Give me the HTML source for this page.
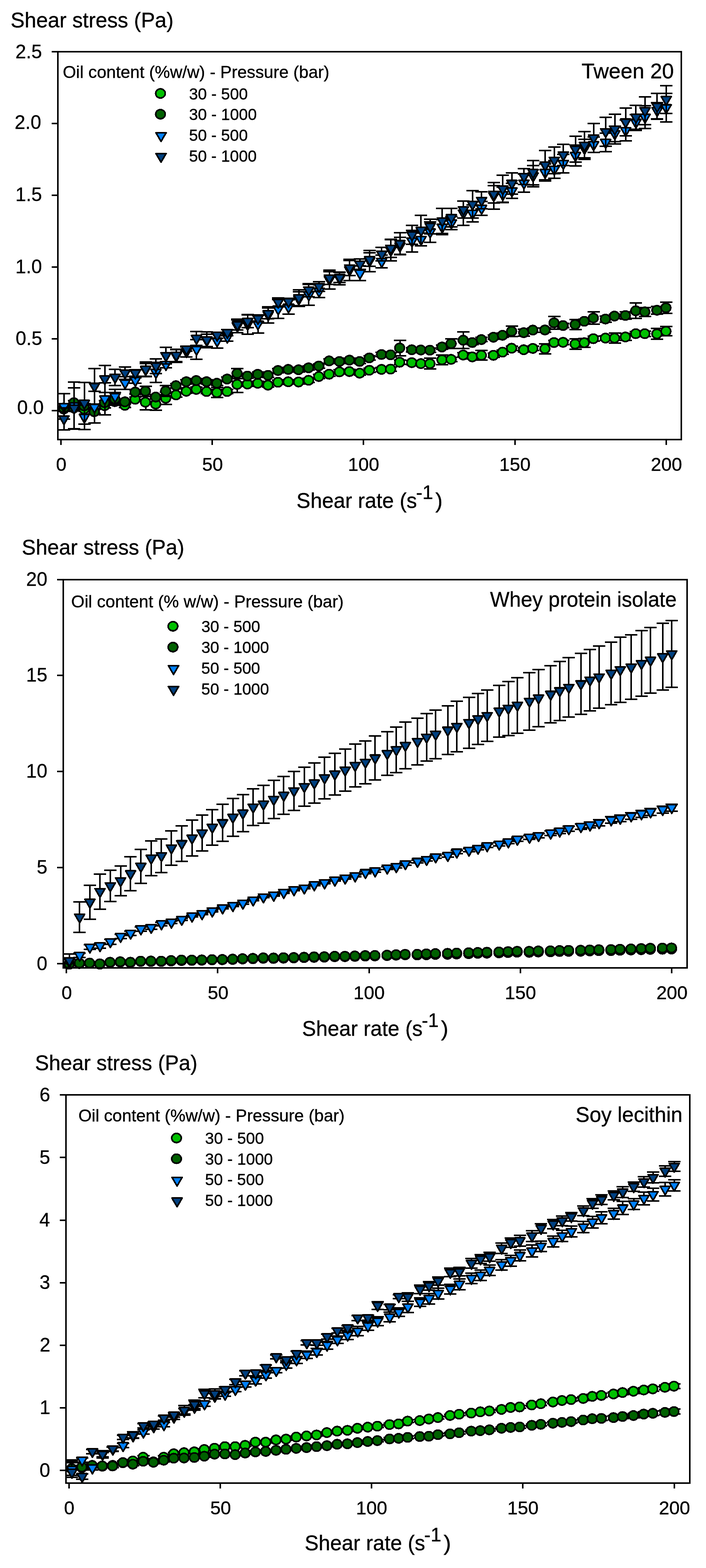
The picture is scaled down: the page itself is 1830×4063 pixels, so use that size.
<!DOCTYPE html>
<html lang="en">
<head>
<meta charset="utf-8">
<title>Shear stress vs shear rate</title>
<style>
html,body{margin:0;padding:0;background:#fff}
body{width:1830px;height:4063px;overflow:hidden}
svg{display:block}
text{font-family:"Liberation Sans", Arial, Helvetica, sans-serif;fill:#000;stroke:#000;stroke-width:0.5}
.e{stroke:#000;stroke-width:4;fill:none;shape-rendering:crispEdges}
.m{stroke:#000;stroke-width:4.1;stroke-linejoin:round;shape-rendering:crispEdges}
.a{stroke:#000;stroke-width:4;fill:none;shape-rendering:crispEdges}
</style>
</head>
<body>
<svg width="1830" height="4063" viewBox="0 0 1830 4063">
<rect width="1830" height="4063" fill="#fff"/>
<g id="plot1">
<text x="27.5" y="71.2" font-size="56" textLength="422.4" lengthAdjust="spacingAndGlyphs">Shear stress (Pa)</text>
<g>
<path class="e" d="M165.7 1054.5V1065.5M149.7 1054.5h32M149.7 1065.5h32M192.1 1051.7V1062.8M176.1 1051.7h32M176.1 1062.8h32M218.6 1054.5V1065.5M202.6 1054.5h32M202.6 1065.5h32M244.9 1060V1071M228.9 1060h32M228.9 1071h32M271.6 1045.7V1056.7M255.6 1045.7h32M255.6 1056.7h32M298.3 1035.2V1046.2M282.3 1035.2h32M282.3 1046.2h32M324.2 1044.8V1055.9M308.2 1044.8h32M308.2 1055.9h32M350.8 1029.1V1040.1M334.8 1029.1h32M334.8 1040.1h32M377.5 1021.9V1062.2M361.5 1021.9h32M361.5 1062.2h32M404.2 1031.3V1062.8M388.2 1031.3h32M388.2 1062.8h32M430.1 1016.1V1047.6M414.1 1016.1h32M414.1 1047.6h32M456.7 1017.8V1028.8M440.7 1017.8h32M440.7 1028.8h32M483.4 1008.4V1019.4M467.4 1008.4h32M467.4 1019.4h32M509.3 1003.4V1014.5M493.3 1003.4h32M493.3 1014.5h32M536 1009V1020M520 1009h32M520 1020h32M562.7 1004.3V1030.2M546.7 1004.3h32M546.7 1030.2h32M589.3 1009V1020M573.3 1009h32M573.3 1020h32M615.2 974.8V1017.2M599.2 974.8h32M599.2 1017.2h32M641.9 989.7V1000.7M625.9 989.7h32M625.9 1000.7h32M668.6 987.7V998.8M652.6 987.7h32M652.6 998.8h32M695.2 992.4V1003.4M679.2 992.4h32M679.2 1003.4h32M721.1 985V996M705.1 985h32M705.1 996h32M747.8 983.8V994.8M731.8 983.8h32M731.8 994.8h32M774.5 984.3V995.3M758.5 984.3h32M758.5 995.3h32M800.4 979.9V990.9M784.4 979.9h32M784.4 990.9h32M827 970.2V981.2M811 970.2h32M811 981.2h32M853.7 964.1V975.2M837.7 964.1h32M837.7 975.2h32M880.4 958.1V969.1M864.4 958.1h32M864.4 969.1h32M906.3 957.2V968.3M890.3 957.2h32M890.3 968.3h32M932.9 961.4V972.4M916.9 961.4h32M916.9 972.4h32M958 953.9V965M942 953.9h32M942 965h32M989.4 951.7V962.8M973.4 951.7h32M973.4 962.8h32M1013 950.9V961.9M997 950.9h32M997 961.9h32M1036.5 933.2V944.2M1020.5 933.2h32M1020.5 944.2h32M1067.9 934.1V945.2M1051.9 934.1h32M1051.9 945.2h32M1091.4 936.7V947.7M1075.4 936.7h32M1075.4 947.7h32M1114.9 928.4V956M1098.9 928.4h32M1098.9 956h32M1146.3 919.9V944.7M1130.3 919.9h32M1130.3 944.7h32M1169.9 925.7V936.7M1153.9 925.7h32M1153.9 936.7h32M1201.2 914.3V925.4M1185.2 914.3h32M1185.2 925.4h32M1224.8 919.3V930.3M1208.8 919.3h32M1208.8 930.3h32M1248.3 908.3V933.1M1232.3 908.3h32M1232.3 933.1h32M1279.7 915.2V926.2M1263.7 915.2h32M1263.7 926.2h32M1303.2 906.9V917.9M1287.2 906.9h32M1287.2 917.9h32M1326.8 896.8V907.9M1310.8 896.8h32M1310.8 907.9h32M1358.1 900.7V911.7M1342.1 900.7h32M1342.1 911.7h32M1381.7 897.2V908.3M1365.7 897.2h32M1365.7 908.3h32M1413 890.6V916.6M1397 890.6h32M1397 916.6h32M1436.6 882.1V893.1M1420.6 882.1h32M1420.6 893.1h32M1460.1 881.6V892.7M1444.1 881.6h32M1444.1 892.7h32M1491.5 877.9V904.7M1475.5 877.9h32M1475.5 904.7h32M1515 876.7V899.6M1499 876.7h32M1499 899.6h32M1538.6 871.4V883.8M1522.6 871.4h32M1522.6 883.8h32M1569.9 870.4V881.5M1553.9 870.4h32M1553.9 881.5h32M1593.5 863.1V888.8M1577.5 863.1h32M1577.5 888.8h32M1621.7 864.2V882.2M1605.7 864.2h32M1605.7 882.2h32M1648.4 859.1V870.1M1632.4 859.1h32M1632.4 870.1h32M1671.9 857.7V871.5M1655.9 857.7h32M1655.9 871.5h32M1703.3 851.4V879M1687.3 851.4h32M1687.3 879h32M1726.8 846.4V870.1M1710.8 846.4h32M1710.8 870.1h32"/>
<g class="m"><ellipse cx="165.1" cy="1060" rx="12.4" ry="11.9" fill="#00c000"/><ellipse cx="191.5" cy="1057.2" rx="12.4" ry="11.9" fill="#00c000"/><ellipse cx="218" cy="1060" rx="12.4" ry="11.9" fill="#00c000"/><ellipse cx="244.3" cy="1065.5" rx="12.4" ry="11.9" fill="#00c000"/><ellipse cx="271" cy="1051.2" rx="12.4" ry="11.9" fill="#00c000"/><ellipse cx="297.7" cy="1040.7" rx="12.4" ry="11.9" fill="#00c000"/><ellipse cx="323.6" cy="1050.3" rx="12.4" ry="11.9" fill="#00c000"/><ellipse cx="350.2" cy="1034.6" rx="12.4" ry="11.9" fill="#00c000"/><ellipse cx="376.9" cy="1042.1" rx="12.4" ry="11.9" fill="#00c000"/><ellipse cx="403.6" cy="1047" rx="12.4" ry="11.9" fill="#00c000"/><ellipse cx="429.5" cy="1031.9" rx="12.4" ry="11.9" fill="#00c000"/><ellipse cx="456.1" cy="1023.3" rx="12.4" ry="11.9" fill="#00c000"/><ellipse cx="482.8" cy="1013.9" rx="12.4" ry="11.9" fill="#00c000"/><ellipse cx="508.7" cy="1009" rx="12.4" ry="11.9" fill="#00c000"/><ellipse cx="535.4" cy="1014.5" rx="12.4" ry="11.9" fill="#00c000"/><ellipse cx="562.1" cy="1017.2" rx="12.4" ry="11.9" fill="#00c000"/><ellipse cx="588.7" cy="1014.5" rx="12.4" ry="11.9" fill="#00c000"/><ellipse cx="614.6" cy="996" rx="12.4" ry="11.9" fill="#00c000"/><ellipse cx="641.3" cy="995.2" rx="12.4" ry="11.9" fill="#00c000"/><ellipse cx="668" cy="993.2" rx="12.4" ry="11.9" fill="#00c000"/><ellipse cx="694.6" cy="997.9" rx="12.4" ry="11.9" fill="#00c000"/><ellipse cx="720.5" cy="990.5" rx="12.4" ry="11.9" fill="#00c000"/><ellipse cx="747.2" cy="989.3" rx="12.4" ry="11.9" fill="#00c000"/><ellipse cx="773.9" cy="989.8" rx="12.4" ry="11.9" fill="#00c000"/><ellipse cx="799.8" cy="985.4" rx="12.4" ry="11.9" fill="#00c000"/><ellipse cx="826.4" cy="975.7" rx="12.4" ry="11.9" fill="#00c000"/><ellipse cx="853.1" cy="969.7" rx="12.4" ry="11.9" fill="#00c000"/><ellipse cx="879.8" cy="963.6" rx="12.4" ry="11.9" fill="#00c000"/><ellipse cx="905.7" cy="962.8" rx="12.4" ry="11.9" fill="#00c000"/><ellipse cx="932.3" cy="966.9" rx="12.4" ry="11.9" fill="#00c000"/><ellipse cx="957.4" cy="959.4" rx="12.4" ry="11.9" fill="#00c000"/><ellipse cx="988.8" cy="957.2" rx="12.4" ry="11.9" fill="#00c000"/><ellipse cx="1012.4" cy="956.4" rx="12.4" ry="11.9" fill="#00c000"/><ellipse cx="1035.9" cy="938.7" rx="12.4" ry="11.9" fill="#00c000"/><ellipse cx="1067.3" cy="939.7" rx="12.4" ry="11.9" fill="#00c000"/><ellipse cx="1090.8" cy="942.2" rx="12.4" ry="11.9" fill="#00c000"/><ellipse cx="1114.3" cy="942.2" rx="12.4" ry="11.9" fill="#00c000"/><ellipse cx="1145.7" cy="932.3" rx="12.4" ry="11.9" fill="#00c000"/><ellipse cx="1169.3" cy="931.2" rx="12.4" ry="11.9" fill="#00c000"/><ellipse cx="1200.6" cy="919.9" rx="12.4" ry="11.9" fill="#00c000"/><ellipse cx="1224.2" cy="924.8" rx="12.4" ry="11.9" fill="#00c000"/><ellipse cx="1247.7" cy="920.7" rx="12.4" ry="11.9" fill="#00c000"/><ellipse cx="1279.1" cy="920.7" rx="12.4" ry="11.9" fill="#00c000"/><ellipse cx="1302.6" cy="912.4" rx="12.4" ry="11.9" fill="#00c000"/><ellipse cx="1326.2" cy="902.3" rx="12.4" ry="11.9" fill="#00c000"/><ellipse cx="1357.5" cy="906.2" rx="12.4" ry="11.9" fill="#00c000"/><ellipse cx="1381.1" cy="902.8" rx="12.4" ry="11.9" fill="#00c000"/><ellipse cx="1412.5" cy="903.6" rx="12.4" ry="11.9" fill="#00c000"/><ellipse cx="1436" cy="887.6" rx="12.4" ry="11.9" fill="#00c000"/><ellipse cx="1459.5" cy="887.1" rx="12.4" ry="11.9" fill="#00c000"/><ellipse cx="1490.9" cy="891.3" rx="12.4" ry="11.9" fill="#00c000"/><ellipse cx="1514.4" cy="888.1" rx="12.4" ry="11.9" fill="#00c000"/><ellipse cx="1538" cy="877.6" rx="12.4" ry="11.9" fill="#00c000"/><ellipse cx="1569.3" cy="876" rx="12.4" ry="11.9" fill="#00c000"/><ellipse cx="1592.9" cy="876" rx="12.4" ry="11.9" fill="#00c000"/><ellipse cx="1621.1" cy="873.2" rx="12.4" ry="11.9" fill="#00c000"/><ellipse cx="1647.8" cy="864.6" rx="12.4" ry="11.9" fill="#00c000"/><ellipse cx="1671.3" cy="864.6" rx="12.4" ry="11.9" fill="#00c000"/><ellipse cx="1702.7" cy="865.2" rx="12.4" ry="11.9" fill="#00c000"/><ellipse cx="1726.2" cy="858.3" rx="12.4" ry="11.9" fill="#00c000"/></g>
</g>
<g>
<path class="e" d="M165.7 1051.7V1062.8M149.7 1051.7h32M149.7 1062.8h32M192.1 1037.9V1049M176.1 1037.9h32M176.1 1049h32M218.6 1046.2V1057.2M202.6 1046.2h32M202.6 1057.2h32M244.9 1061.4V1072.4M228.9 1061.4h32M228.9 1072.4h32M271.6 1037.9V1049M255.6 1037.9h32M255.6 1049h32M298.3 1017.2V1050.3M282.3 1017.2h32M282.3 1050.3h32M324.2 1035.7V1046.8M308.2 1035.7h32M308.2 1046.8h32M350.8 1010.3V1021.4M334.8 1010.3h32M334.8 1021.4h32M377.5 1000.7V1026.6M361.5 1000.7h32M361.5 1026.6h32M404.2 1023.3V1034.3M388.2 1023.3h32M388.2 1034.3h32M430.1 999.3V1026.9M414.1 999.3h32M414.1 1026.9h32M456.7 993.8V1004.8M440.7 993.8h32M440.7 1004.8h32M483.4 983.6V994.6M467.4 983.6h32M467.4 994.6h32M509.3 980.6V991.6M493.3 980.6h32M493.3 991.6h32M536 983.6V994.6M520 983.6h32M520 994.6h32M562.7 987.4V998.5M546.7 987.4h32M546.7 998.5h32M589.3 976.7V987.7M573.3 976.7h32M573.3 987.7h32M615.2 954.6V980.6M599.2 954.6h32M599.2 980.6h32M641.9 969V980M625.9 969h32M625.9 980h32M668.6 964.3V975.3M652.6 964.3h32M652.6 975.3h32M695.2 967V978.1M679.2 967h32M679.2 978.1h32M721.1 954.6V965.7M705.1 954.6h32M705.1 965.7h32M747.8 951.7V962.7M731.8 951.7h32M731.8 962.7h32M774.5 952.6V963.6M758.5 952.6h32M758.5 963.6h32M800.4 947.6V958.6M784.4 947.6h32M784.4 958.6h32M827 942.9V953.9M811 942.9h32M811 953.9h32M853.7 929.7V940.7M837.7 929.7h32M837.7 940.7h32M880.4 931V942.1M864.4 931h32M864.4 942.1h32M906.3 927.7V938.8M890.3 927.7h32M890.3 938.8h32M932.9 931V942.1M916.9 931h32M916.9 942.1h32M958 921.9V933M942 921.9h32M942 933h32M989.4 913.1V924.1M973.4 913.1h32M973.4 924.1h32M1013 913.9V925M997 913.9h32M997 925h32M1036.5 881.6V921.9M1020.5 881.6h32M1020.5 921.9h32M1067.9 900.8V911.8M1051.9 900.8h32M1051.9 911.8h32M1091.4 901.4V912.4M1075.4 901.4h32M1075.4 912.4h32M1114.9 901.9V913M1098.9 901.9h32M1098.9 913h32M1146.3 893.7V904.7M1130.3 893.7h32M1130.3 904.7h32M1169.9 877.9V902.8M1153.9 877.9h32M1153.9 902.8h32M1201.2 860.3V902.8M1185.2 860.3h32M1185.2 902.8h32M1224.8 882.1V893.1M1208.8 882.1h32M1208.8 893.1h32M1248.3 874.3V885.4M1232.3 874.3h32M1232.3 885.4h32M1279.7 868.3V879.3M1263.7 868.3h32M1263.7 879.3h32M1303.2 863.3V874.3M1287.2 863.3h32M1287.2 874.3h32M1326.8 845V872.3M1310.8 845h32M1310.8 872.3h32M1358.1 853V870.9M1342.1 853h32M1342.1 870.9h32M1381.7 849.8V860.8M1365.7 849.8h32M1365.7 860.8h32M1413 849.5V860.6M1397 849.5h32M1397 860.6h32M1436.6 819.7V853.4M1420.6 819.7h32M1420.6 853.4h32M1460.1 838V849.1M1444.1 838h32M1444.1 849.1h32M1491.5 828V853.9M1475.5 828h32M1475.5 853.9h32M1515 827V838M1499 827h32M1499 838h32M1538.6 807.7V840.2M1522.6 807.7h32M1522.6 840.2h32M1569.9 818.7V834.7M1553.9 818.7h32M1553.9 834.7h32M1593.5 813.5V824.5M1577.5 813.5h32M1577.5 824.5h32M1621.7 808.2V826.7M1605.7 808.2h32M1605.7 826.7h32M1648.4 785.4V825.2M1632.4 785.4h32M1632.4 825.2h32M1671.9 796.5V819.7M1655.9 796.5h32M1655.9 819.7h32M1703.3 793.7V814.1M1687.3 793.7h32M1687.3 814.1h32M1726.8 783V812.2M1710.8 783h32M1710.8 812.2h32"/>
<g class="m"><ellipse cx="165.1" cy="1057.2" rx="12.4" ry="11.9" fill="#006000"/><ellipse cx="191.5" cy="1043.4" rx="12.4" ry="11.9" fill="#006000"/><ellipse cx="218" cy="1051.7" rx="12.4" ry="11.9" fill="#006000"/><ellipse cx="244.3" cy="1066.9" rx="12.4" ry="11.9" fill="#006000"/><ellipse cx="271" cy="1043.4" rx="12.4" ry="11.9" fill="#006000"/><ellipse cx="297.7" cy="1033.8" rx="12.4" ry="11.9" fill="#006000"/><ellipse cx="323.6" cy="1041.2" rx="12.4" ry="11.9" fill="#006000"/><ellipse cx="350.2" cy="1015.9" rx="12.4" ry="11.9" fill="#006000"/><ellipse cx="376.9" cy="1013.7" rx="12.4" ry="11.9" fill="#006000"/><ellipse cx="403.6" cy="1028.8" rx="12.4" ry="11.9" fill="#006000"/><ellipse cx="429.5" cy="1013.1" rx="12.4" ry="11.9" fill="#006000"/><ellipse cx="456.1" cy="999.3" rx="12.4" ry="11.9" fill="#006000"/><ellipse cx="482.8" cy="989.1" rx="12.4" ry="11.9" fill="#006000"/><ellipse cx="508.7" cy="986.1" rx="12.4" ry="11.9" fill="#006000"/><ellipse cx="535.4" cy="989.1" rx="12.4" ry="11.9" fill="#006000"/><ellipse cx="562.1" cy="993" rx="12.4" ry="11.9" fill="#006000"/><ellipse cx="588.7" cy="982.2" rx="12.4" ry="11.9" fill="#006000"/><ellipse cx="614.6" cy="967.6" rx="12.4" ry="11.9" fill="#006000"/><ellipse cx="641.3" cy="974.5" rx="12.4" ry="11.9" fill="#006000"/><ellipse cx="668" cy="969.8" rx="12.4" ry="11.9" fill="#006000"/><ellipse cx="694.6" cy="972.6" rx="12.4" ry="11.9" fill="#006000"/><ellipse cx="720.5" cy="960.1" rx="12.4" ry="11.9" fill="#006000"/><ellipse cx="747.2" cy="957.2" rx="12.4" ry="11.9" fill="#006000"/><ellipse cx="773.9" cy="958.1" rx="12.4" ry="11.9" fill="#006000"/><ellipse cx="799.8" cy="953.1" rx="12.4" ry="11.9" fill="#006000"/><ellipse cx="826.4" cy="948.4" rx="12.4" ry="11.9" fill="#006000"/><ellipse cx="853.1" cy="935.2" rx="12.4" ry="11.9" fill="#006000"/><ellipse cx="879.8" cy="936.6" rx="12.4" ry="11.9" fill="#006000"/><ellipse cx="905.7" cy="933.2" rx="12.4" ry="11.9" fill="#006000"/><ellipse cx="932.3" cy="936.6" rx="12.4" ry="11.9" fill="#006000"/><ellipse cx="957.4" cy="927.4" rx="12.4" ry="11.9" fill="#006000"/><ellipse cx="988.8" cy="918.6" rx="12.4" ry="11.9" fill="#006000"/><ellipse cx="1012.4" cy="919.4" rx="12.4" ry="11.9" fill="#006000"/><ellipse cx="1035.9" cy="901.7" rx="12.4" ry="11.9" fill="#006000"/><ellipse cx="1067.3" cy="906.3" rx="12.4" ry="11.9" fill="#006000"/><ellipse cx="1090.8" cy="906.9" rx="12.4" ry="11.9" fill="#006000"/><ellipse cx="1114.3" cy="907.4" rx="12.4" ry="11.9" fill="#006000"/><ellipse cx="1145.7" cy="899.2" rx="12.4" ry="11.9" fill="#006000"/><ellipse cx="1169.3" cy="890.3" rx="12.4" ry="11.9" fill="#006000"/><ellipse cx="1200.6" cy="881.5" rx="12.4" ry="11.9" fill="#006000"/><ellipse cx="1224.2" cy="887.6" rx="12.4" ry="11.9" fill="#006000"/><ellipse cx="1247.7" cy="879.9" rx="12.4" ry="11.9" fill="#006000"/><ellipse cx="1279.1" cy="873.8" rx="12.4" ry="11.9" fill="#006000"/><ellipse cx="1302.6" cy="868.8" rx="12.4" ry="11.9" fill="#006000"/><ellipse cx="1326.2" cy="858.6" rx="12.4" ry="11.9" fill="#006000"/><ellipse cx="1357.5" cy="861.9" rx="12.4" ry="11.9" fill="#006000"/><ellipse cx="1381.1" cy="855.3" rx="12.4" ry="11.9" fill="#006000"/><ellipse cx="1412.5" cy="855" rx="12.4" ry="11.9" fill="#006000"/><ellipse cx="1436" cy="836.6" rx="12.4" ry="11.9" fill="#006000"/><ellipse cx="1459.5" cy="843.6" rx="12.4" ry="11.9" fill="#006000"/><ellipse cx="1490.9" cy="840.9" rx="12.4" ry="11.9" fill="#006000"/><ellipse cx="1514.4" cy="832.5" rx="12.4" ry="11.9" fill="#006000"/><ellipse cx="1538" cy="824" rx="12.4" ry="11.9" fill="#006000"/><ellipse cx="1569.3" cy="826.7" rx="12.4" ry="11.9" fill="#006000"/><ellipse cx="1592.9" cy="819" rx="12.4" ry="11.9" fill="#006000"/><ellipse cx="1621.1" cy="817.5" rx="12.4" ry="11.9" fill="#006000"/><ellipse cx="1647.8" cy="805.3" rx="12.4" ry="11.9" fill="#006000"/><ellipse cx="1671.3" cy="808.1" rx="12.4" ry="11.9" fill="#006000"/><ellipse cx="1702.7" cy="803.9" rx="12.4" ry="11.9" fill="#006000"/><ellipse cx="1726.2" cy="797.6" rx="12.4" ry="11.9" fill="#006000"/></g>
</g>
<g>
<path class="e" d="M165.7 1020.2V1086.4M149.7 1020.2h32M149.7 1086.4h32M192.1 990.4V1112.3M176.1 990.4h32M176.1 1112.3h32M218.6 1049.7V1112.6M202.6 1049.7h32M202.6 1112.6h32M244.9 1013.6V1096.3M228.9 1013.6h32M228.9 1096.3h32M271.6 992V1075.4M255.6 992h32M255.6 1075.4h32M298.3 1009.1V1045.6M282.3 1009.1h32M282.3 1045.6h32M324.2 975.5V1009.1M308.2 975.5h32M308.2 1009.1h32M350.8 978.8V993.1M334.8 978.8h32M334.8 993.1h32M377.5 941.6V974.7M361.5 941.6h32M361.5 974.7h32M404.2 939.4V990.7M388.2 939.4h32M388.2 990.7h32M430.1 936.6V952.6M414.1 936.6h32M414.1 952.6h32M456.7 905.7V938.8M440.7 905.7h32M440.7 938.8h32M483.4 897.4V925M467.4 897.4h32M467.4 925h32M509.3 879.8V930.5M493.3 879.8h32M493.3 930.5h32M536 866.2V898.2M520 866.2h32M520 898.2h32M562.7 864.3V902.4M546.7 864.3h32M546.7 902.4h32M589.3 863.2V884.2M573.3 863.2h32M573.3 884.2h32M615.2 828.5V861.6M599.2 828.5h32M599.2 861.6h32M641.9 814.9V866.2M625.9 814.9h32M625.9 866.2h32M668.6 815.5V862.9M652.6 815.5h32M652.6 862.9h32M695.2 795.4V836.7M679.2 795.4h32M679.2 836.7h32M721.1 776.3V824.9M705.1 776.3h32M705.1 824.9h32M747.8 777.1V814M731.8 777.1h32M731.8 814h32M774.5 755.8V794.4M758.5 755.8h32M758.5 794.4h32M800.4 736.7V791.4M784.4 736.7h32M784.4 791.4h32M827 738.1V770.7M811 738.1h32M811 770.7h32M853.7 699.5V749.1M837.7 699.5h32M837.7 749.1h32M880.4 705V738.1M864.4 705h32M864.4 738.1h32M906.3 671.9V727.1M890.3 671.9h32M890.3 727.1h32M932.9 689V727.1M916.9 689h32M916.9 727.1h32M958 648.5V703.6M942 648.5h32M942 703.6h32M989.4 661.4V694M973.4 661.4h32M973.4 694h32M1013 620.9V676M997 620.9h32M997 676h32M1036.5 615.4V659.8M1020.5 615.4h32M1020.5 659.8h32M1067.9 596.5V652.7M1051.9 596.5h32M1051.9 652.7h32M1091.4 604.2V636.7M1075.4 604.2h32M1075.4 636.7h32M1114.9 574.7V627.6M1098.9 574.7h32M1098.9 627.6h32M1146.3 569.4V608M1130.3 569.4h32M1130.3 608h32M1169.9 560.9V594.5M1153.9 560.9h32M1153.9 594.5h32M1201.2 520.9V583.8M1185.2 520.9h32M1185.2 583.8h32M1224.8 531.1V574.7M1208.8 531.1h32M1208.8 574.7h32M1248.3 522.2V557.6M1232.3 522.2h32M1232.3 557.6h32M1279.7 472.6V541.6M1263.7 472.6h32M1263.7 541.6h32M1303.2 485V523.6M1287.2 485h32M1287.2 523.6h32M1326.8 475.4V514.3M1310.8 475.4h32M1310.8 514.3h32M1358.1 451V497.6M1342.1 451h32M1342.1 497.6h32M1381.7 428.5V483.7M1365.7 428.5h32M1365.7 483.7h32M1413 425.2V468.8M1397 425.2h32M1397 468.8h32M1436.6 415.6V461.9M1420.6 415.6h32M1420.6 461.9h32M1460.1 399.6V447.6M1444.1 399.6h32M1444.1 447.6h32M1491.5 375.7V430.4M1475.5 375.7h32M1475.5 430.4h32M1515 360.6V409.1M1499 360.6h32M1499 409.1h32M1538.6 355.3V394.8M1522.6 355.3h32M1522.6 394.8h32M1569.9 345.4V392.6M1553.9 345.4h32M1553.9 392.6h32M1593.5 326.6V366.6M1577.5 326.6h32M1577.5 366.6h32M1621.7 311.2V365.2M1605.7 311.2h32M1605.7 365.2h32M1648.4 296.7V337.6M1632.4 296.7h32M1632.4 337.6h32M1671.9 274.4V333.4M1655.9 274.4h32M1655.9 333.4h32M1703.3 265.8V307.8M1687.3 265.8h32M1687.3 307.8h32M1726.8 241.8V316.3M1710.8 241.8h32M1710.8 316.3h32"/>
<g class="m"><path d="M152.8 1045.7h26l-13 22.6z" fill="#0080ff"/><path d="M179.2 1043.8h26l-13 22.6z" fill="#0080ff"/><path d="M205.7 1073.5h26l-13 22.6z" fill="#0080ff"/><path d="M232 1047.3h26l-13 22.6z" fill="#0080ff"/><path d="M258.7 1026.1h26l-13 22.6z" fill="#0080ff"/><path d="M285.4 1019.8h26l-13 22.6z" fill="#0080ff"/><path d="M311.3 984.7h26l-13 22.6z" fill="#0080ff"/><path d="M337.9 978.4h26l-13 22.6z" fill="#0080ff"/><path d="M364.6 950.5h26l-13 22.6z" fill="#0080ff"/><path d="M391.3 957.4h26l-13 22.6z" fill="#0080ff"/><path d="M417.2 937h26l-13 22.6z" fill="#0080ff"/><path d="M443.8 914.6h26l-13 22.6z" fill="#0080ff"/><path d="M470.5 903.6h26l-13 22.6z" fill="#0080ff"/><path d="M496.4 897.5h26l-13 22.6z" fill="#0080ff"/><path d="M523.1 874.6h26l-13 22.6z" fill="#0080ff"/><path d="M549.8 875.8h26l-13 22.6z" fill="#0080ff"/><path d="M576.4 866.1h26l-13 22.6z" fill="#0080ff"/><path d="M602.3 837.4h26l-13 22.6z" fill="#0080ff"/><path d="M629 833h26l-13 22.6z" fill="#0080ff"/><path d="M655.7 831.6h26l-13 22.6z" fill="#0080ff"/><path d="M682.3 808.4h26l-13 22.6z" fill="#0080ff"/><path d="M708.2 793h26l-13 22.6z" fill="#0080ff"/><path d="M734.9 788h26l-13 22.6z" fill="#0080ff"/><path d="M761.6 767.5h26l-13 22.6z" fill="#0080ff"/><path d="M787.5 756.4h26l-13 22.6z" fill="#0080ff"/><path d="M814.1 746.8h26l-13 22.6z" fill="#0080ff"/><path d="M840.8 716.7h26l-13 22.6z" fill="#0080ff"/><path d="M867.5 714h26l-13 22.6z" fill="#0080ff"/><path d="M893.4 691.9h26l-13 22.6z" fill="#0080ff"/><path d="M920 700.4h26l-13 22.6z" fill="#0080ff"/><path d="M945.1 668.4h26l-13 22.6z" fill="#0080ff"/><path d="M976.5 670.1h26l-13 22.6z" fill="#0080ff"/><path d="M1000.1 640.9h26l-13 22.6z" fill="#0080ff"/><path d="M1023.6 630h26l-13 22.6z" fill="#0080ff"/><path d="M1055 617h26l-13 22.6z" fill="#0080ff"/><path d="M1078.5 612.9h26l-13 22.6z" fill="#0080ff"/><path d="M1102 593.5h26l-13 22.6z" fill="#0080ff"/><path d="M1133.4 581.1h26l-13 22.6z" fill="#0080ff"/><path d="M1157 570.1h26l-13 22.6z" fill="#0080ff"/><path d="M1188.3 544.7h26l-13 22.6z" fill="#0080ff"/><path d="M1211.9 545.3h26l-13 22.6z" fill="#0080ff"/><path d="M1235.4 532.3h26l-13 22.6z" fill="#0080ff"/><path d="M1266.8 499.5h26l-13 22.6z" fill="#0080ff"/><path d="M1290.3 496.7h26l-13 22.6z" fill="#0080ff"/><path d="M1313.9 487.2h26l-13 22.6z" fill="#0080ff"/><path d="M1345.2 466.7h26l-13 22.6z" fill="#0080ff"/><path d="M1368.8 448.5h26l-13 22.6z" fill="#0080ff"/><path d="M1400.1 439.4h26l-13 22.6z" fill="#0080ff"/><path d="M1423.7 431.1h26l-13 22.6z" fill="#0080ff"/><path d="M1447.2 416h26l-13 22.6z" fill="#0080ff"/><path d="M1478.6 395.4h26l-13 22.6z" fill="#0080ff"/><path d="M1502.1 377.2h26l-13 22.6z" fill="#0080ff"/><path d="M1525.7 367.4h26l-13 22.6z" fill="#0080ff"/><path d="M1557 361.4h26l-13 22.6z" fill="#0080ff"/><path d="M1580.6 339h26l-13 22.6z" fill="#0080ff"/><path d="M1608.8 330.6h26l-13 22.6z" fill="#0080ff"/><path d="M1635.5 309.5h26l-13 22.6z" fill="#0080ff"/><path d="M1659 296.3h26l-13 22.6z" fill="#0080ff"/><path d="M1690.4 279.2h26l-13 22.6z" fill="#0080ff"/><path d="M1713.9 271.5h26l-13 22.6z" fill="#0080ff"/></g>
</g>
<g>
<path class="e" d="M165.7 1056.6V1114M149.7 1056.6h32M149.7 1114h32M192.1 1005V1110.9M176.1 1005h32M176.1 1110.9h32M218.6 991.2V1098.8M202.6 991.2h32M202.6 1098.8h32M244.9 954.8V1047.5M228.9 954.8h32M228.9 1047.5h32M271.6 947.1V1016.6M255.6 947.1h32M255.6 1016.6h32M298.3 956.7V998.7M282.3 956.7h32M282.3 998.7h32M324.2 950.7V982.7M308.2 950.7h32M308.2 982.7h32M350.8 958.4V974.9M334.8 958.4h32M334.8 974.9h32M377.5 937.7V976.3M361.5 937.7h32M361.5 976.3h32M404.2 929.7V967.8M388.2 929.7h32M388.2 967.8h32M430.1 900.2V943.2M414.1 900.2h32M414.1 943.2h32M456.7 904.5V936.5M440.7 904.5h32M440.7 936.5h32M483.4 899.1V910.1M467.4 899.1h32M467.4 910.1h32M509.3 858.8V895.2M493.3 858.8h32M493.3 895.2h32M536 860.2V901M520 860.2h32M520 901h32M562.7 860.5V877M546.7 860.5h32M546.7 877h32M589.3 853.6V870.1M573.3 853.6h32M573.3 870.1h32M615.2 827.1V855.2M599.2 827.1h32M599.2 855.2h32M641.9 816.3V849.4M625.9 816.3h32M625.9 849.4h32M668.6 817.1V833.7M652.6 817.1h32M652.6 833.7h32M695.2 798.1V826.2M679.2 798.1h32M679.2 826.2h32M721.1 771.9V794.5M705.1 771.9h32M705.1 794.5h32M747.8 773.2V789.8M731.8 773.2h32M731.8 789.8h32M774.5 750.8V792.2M758.5 750.8h32M758.5 792.2h32M800.4 734.8V768.5M784.4 734.8h32M784.4 768.5h32M827 730.4V754.7M811 730.4h32M811 754.7h32M853.7 703.6V737.3M837.7 703.6h32M837.7 737.3h32M880.4 706.4V731.8M864.4 706.4h32M864.4 731.8h32M906.3 674.9V713.6M890.3 674.9h32M890.3 713.6h32M932.9 671.4V697.8M916.9 671.4h32M916.9 697.8h32M958 655.4V690.1M942 655.4h32M942 690.1h32M989.4 640.7V676M973.4 640.7h32M973.4 676h32M1013 619.8V666.7M997 619.8h32M997 666.7h32M1036.5 603.4V658.9M1020.5 603.4h32M1020.5 658.9h32M1067.9 584.3V633.4M1051.9 584.3h32M1051.9 633.4h32M1091.4 557.6V636.5M1075.4 557.6h32M1075.4 636.5h32M1114.9 567.5V606.1M1098.9 567.5h32M1098.9 606.1h32M1146.3 539.6V604.7M1130.3 539.6h32M1130.3 604.7h32M1169.9 540.2V587.6M1153.9 540.2h32M1153.9 587.6h32M1201.2 521.1V565.3M1185.2 521.1h32M1185.2 565.3h32M1224.8 493.8V565M1208.8 493.8h32M1208.8 565h32M1248.3 497.4V541M1232.3 497.4h32M1232.3 541h32M1279.7 480.6V525.8M1263.7 480.6h32M1263.7 525.8h32M1303.2 453.8V525M1287.2 453.8h32M1287.2 525h32M1326.8 447.7V502.6M1310.8 447.7h32M1310.8 502.6h32M1358.1 436.6V477.7M1342.1 436.6h32M1342.1 477.7h32M1381.7 415.6V478.5M1365.7 415.6h32M1365.7 478.5h32M1413 389.6V465.8M1397 389.6h32M1397 465.8h32M1436.6 380.5V450M1420.6 380.5h32M1420.6 450h32M1460.1 373.6V429.4M1444.1 373.6h32M1444.1 429.4h32M1491.5 353.1V419.9M1475.5 353.1h32M1475.5 419.9h32M1515 341V412.7M1499 341h32M1499 412.7h32M1538.6 319.6V394.9M1522.6 319.6h32M1522.6 394.9h32M1569.9 303.9V378.6M1553.9 303.9h32M1553.9 378.6h32M1593.5 295.6V373.4M1577.5 295.6h32M1577.5 373.4h32M1621.7 280.4V351.9M1605.7 280.4h32M1605.7 351.9h32M1648.4 272.5V335.4M1632.4 272.5h32M1632.4 335.4h32M1671.9 250.7V322.9M1655.9 250.7h32M1655.9 322.9h32M1703.3 242.4V309.1M1687.3 242.4h32M1687.3 309.1h32M1726.8 222V293.7M1710.8 222h32M1710.8 293.7h32"/>
<g class="m"><path d="M152.8 1077.7h26l-13 22.6z" fill="#004080"/><path d="M179.2 1050.4h26l-13 22.6z" fill="#004080"/><path d="M205.7 1037.4h26l-13 22.6z" fill="#004080"/><path d="M232 993.5h26l-13 22.6z" fill="#004080"/><path d="M258.7 974.2h26l-13 22.6z" fill="#004080"/><path d="M285.4 970.1h26l-13 22.6z" fill="#004080"/><path d="M311.3 959.1h26l-13 22.6z" fill="#004080"/><path d="M337.9 959.1h26l-13 22.6z" fill="#004080"/><path d="M364.6 949.4h26l-13 22.6z" fill="#004080"/><path d="M391.3 941.1h26l-13 22.6z" fill="#004080"/><path d="M417.2 914.1h26l-13 22.6z" fill="#004080"/><path d="M443.8 912.9h26l-13 22.6z" fill="#004080"/><path d="M470.5 897h26l-13 22.6z" fill="#004080"/><path d="M496.4 869.4h26l-13 22.6z" fill="#004080"/><path d="M523.1 873h26l-13 22.6z" fill="#004080"/><path d="M549.8 861.1h26l-13 22.6z" fill="#004080"/><path d="M576.4 854.2h26l-13 22.6z" fill="#004080"/><path d="M602.3 833.5h26l-13 22.6z" fill="#004080"/><path d="M629 825.3h26l-13 22.6z" fill="#004080"/><path d="M655.7 817.8h26l-13 22.6z" fill="#004080"/><path d="M682.3 804.6h26l-13 22.6z" fill="#004080"/><path d="M708.2 775.6h26l-13 22.6z" fill="#004080"/><path d="M734.9 773.9h26l-13 22.6z" fill="#004080"/><path d="M761.6 763.9h26l-13 22.6z" fill="#004080"/><path d="M787.5 744h26l-13 22.6z" fill="#004080"/><path d="M814.1 734.9h26l-13 22.6z" fill="#004080"/><path d="M840.8 712.9h26l-13 22.6z" fill="#004080"/><path d="M867.5 711.5h26l-13 22.6z" fill="#004080"/><path d="M893.4 686.6h26l-13 22.6z" fill="#004080"/><path d="M920 677h26l-13 22.6z" fill="#004080"/><path d="M945.1 665.1h26l-13 22.6z" fill="#004080"/><path d="M976.5 650.8h26l-13 22.6z" fill="#004080"/><path d="M1000.1 635.6h26l-13 22.6z" fill="#004080"/><path d="M1023.6 623.5h26l-13 22.6z" fill="#004080"/><path d="M1055 601.3h26l-13 22.6z" fill="#004080"/><path d="M1078.5 589.4h26l-13 22.6z" fill="#004080"/><path d="M1102 579.2h26l-13 22.6z" fill="#004080"/><path d="M1133.4 564.6h26l-13 22.6z" fill="#004080"/><path d="M1157 556.3h26l-13 22.6z" fill="#004080"/><path d="M1188.3 535.6h26l-13 22.6z" fill="#004080"/><path d="M1211.9 521.8h26l-13 22.6z" fill="#004080"/><path d="M1235.4 511.6h26l-13 22.6z" fill="#004080"/><path d="M1266.8 495.6h26l-13 22.6z" fill="#004080"/><path d="M1290.3 481.8h26l-13 22.6z" fill="#004080"/><path d="M1313.9 467.5h26l-13 22.6z" fill="#004080"/><path d="M1345.2 449.6h26l-13 22.6z" fill="#004080"/><path d="M1368.8 439.4h26l-13 22.6z" fill="#004080"/><path d="M1400.1 420.1h26l-13 22.6z" fill="#004080"/><path d="M1423.7 407.7h26l-13 22.6z" fill="#004080"/><path d="M1447.2 393.9h26l-13 22.6z" fill="#004080"/><path d="M1478.6 378.9h26l-13 22.6z" fill="#004080"/><path d="M1502.1 369.2h26l-13 22.6z" fill="#004080"/><path d="M1525.7 349.6h26l-13 22.6z" fill="#004080"/><path d="M1557 333.6h26l-13 22.6z" fill="#004080"/><path d="M1580.6 326.9h26l-13 22.6z" fill="#004080"/><path d="M1608.8 308.5h26l-13 22.6z" fill="#004080"/><path d="M1635.5 296.3h26l-13 22.6z" fill="#004080"/><path d="M1659 279.2h26l-13 22.6z" fill="#004080"/><path d="M1690.4 268.2h26l-13 22.6z" fill="#004080"/><path d="M1713.9 250.2h26l-13 22.6z" fill="#004080"/></g>
</g>
<rect class="a" x="150" y="134" width="1616" height="1004.6"/>
<path class="a" d="M157.8 1138.6v14.5M550.1 1138.6v14.5M942.4 1138.6v14.5M1334.6 1138.6v14.5M1726.8 1138.6v14.5M150 1064.2h-16.5M150 878.1h-16.5M150 692h-16.5M150 505.9h-16.5M150 319.8h-16.5M150 133.7h-16.5"/>
<text x="145.3" y="1220.3" font-size="48.5" textLength="27" lengthAdjust="spacingAndGlyphs">0</text>
<text x="524.1" y="1220.3" font-size="48.5" textLength="53.9" lengthAdjust="spacingAndGlyphs">50</text>
<text x="902" y="1220.3" font-size="48.5" textLength="80.9" lengthAdjust="spacingAndGlyphs">100</text>
<text x="1294.3" y="1220.3" font-size="48.5" textLength="80.9" lengthAdjust="spacingAndGlyphs">150</text>
<text x="1687.1" y="1220.3" font-size="48.5" textLength="80.9" lengthAdjust="spacingAndGlyphs">200</text>
<text x="44.5" y="1072.8" font-size="49.5" textLength="68.8" lengthAdjust="spacingAndGlyphs">0.0</text>
<text x="40.6" y="893.7" font-size="49.5" textLength="68.8" lengthAdjust="spacingAndGlyphs">0.5</text>
<text x="40" y="707.7" font-size="49.5" textLength="68.8" lengthAdjust="spacingAndGlyphs">1.0</text>
<text x="40.1" y="520.8" font-size="49.5" textLength="68.8" lengthAdjust="spacingAndGlyphs">1.5</text>
<text x="38" y="333.8" font-size="49.5" textLength="68.8" lengthAdjust="spacingAndGlyphs">2.0</text>
<text x="40.1" y="150.7" font-size="49.5" textLength="68.8" lengthAdjust="spacingAndGlyphs">2.5</text>
<text y="1315.5" font-size="56"><tspan x="768.6" dy="0" font-size="56" textLength="312.3" lengthAdjust="spacingAndGlyphs">Shear rate (s</tspan><tspan x="1078.5" dy="-22.7" font-size="50" textLength="44.3" lengthAdjust="spacingAndGlyphs">-1</tspan><tspan x="1128.6" dy="22.7" font-size="56" textLength="18.8" lengthAdjust="spacingAndGlyphs">)</tspan></text>
<text x="162.7" y="201.7" font-size="44.4" textLength="691.1" lengthAdjust="spacingAndGlyphs">Oil content (%w/w) - Pressure (bar)</text>
<g class="m">
<ellipse cx="415.9" cy="242.1" rx="12.4" ry="11.9" fill="#00c000"/>
<ellipse cx="415.9" cy="295.9" rx="12.4" ry="11.9" fill="#006000"/>
<path d="M404.1 343.9h26.6l-13.3 22.6z" fill="#0080ff"/>
<path d="M404.1 397.7h26.6l-13.3 22.6z" fill="#004080"/>
</g>
<text x="490" y="257.6" font-size="42" textLength="152.4" lengthAdjust="spacingAndGlyphs">30 - 500</text>
<text x="490" y="311.4" font-size="42" textLength="175.5" lengthAdjust="spacingAndGlyphs">30 - 1000</text>
<text x="489.9" y="365.2" font-size="42" textLength="152.4" lengthAdjust="spacingAndGlyphs">50 - 500</text>
<text x="489.9" y="419" font-size="42" textLength="175.5" lengthAdjust="spacingAndGlyphs">50 - 1000</text>
<text x="1507.5" y="202.6" font-size="56" textLength="239.3" lengthAdjust="spacingAndGlyphs">Tween 20</text>
</g>
<g id="plot2">
<text x="56.6" y="1437" font-size="56" textLength="421.3" lengthAdjust="spacingAndGlyphs">Shear stress (Pa)</text>
<g>
<g class="m"><ellipse cx="179.3" cy="2498.5" rx="12.4" ry="11.9" fill="#00c000"/><ellipse cx="205.8" cy="2496.8" rx="12.4" ry="11.9" fill="#00c000"/><ellipse cx="232.3" cy="2496.4" rx="12.4" ry="11.9" fill="#00c000"/><ellipse cx="258.6" cy="2498.5" rx="12.4" ry="11.9" fill="#00c000"/><ellipse cx="285.3" cy="2494.3" rx="12.4" ry="11.9" fill="#00c000"/><ellipse cx="311.9" cy="2493.1" rx="12.4" ry="11.9" fill="#00c000"/><ellipse cx="337.8" cy="2494.3" rx="12.4" ry="11.9" fill="#00c000"/><ellipse cx="364.5" cy="2491.4" rx="12.4" ry="11.9" fill="#00c000"/><ellipse cx="391.2" cy="2491.4" rx="12.4" ry="11.9" fill="#00c000"/><ellipse cx="417.8" cy="2491.4" rx="12.4" ry="11.9" fill="#00c000"/><ellipse cx="443.7" cy="2490.2" rx="12.4" ry="11.9" fill="#00c000"/><ellipse cx="470.4" cy="2489" rx="12.4" ry="11.9" fill="#00c000"/><ellipse cx="497.1" cy="2488.6" rx="12.4" ry="11.9" fill="#00c000"/><ellipse cx="523" cy="2488.1" rx="12.4" ry="11.9" fill="#00c000"/><ellipse cx="549.6" cy="2487.3" rx="12.4" ry="11.9" fill="#00c000"/><ellipse cx="576.3" cy="2486.9" rx="12.4" ry="11.9" fill="#00c000"/><ellipse cx="603" cy="2486.1" rx="12.4" ry="11.9" fill="#00c000"/><ellipse cx="628.9" cy="2485" rx="12.4" ry="11.9" fill="#00c000"/><ellipse cx="655.5" cy="2484.4" rx="12.4" ry="11.9" fill="#00c000"/><ellipse cx="682.2" cy="2483.2" rx="12.4" ry="11.9" fill="#00c000"/><ellipse cx="708.9" cy="2483.6" rx="12.4" ry="11.9" fill="#00c000"/><ellipse cx="734.8" cy="2482.8" rx="12.4" ry="11.9" fill="#00c000"/><ellipse cx="761.4" cy="2482.3" rx="12.4" ry="11.9" fill="#00c000"/><ellipse cx="788.1" cy="2481.5" rx="12.4" ry="11.9" fill="#00c000"/><ellipse cx="814" cy="2480.7" rx="12.4" ry="11.9" fill="#00c000"/><ellipse cx="840.7" cy="2480.3" rx="12.4" ry="11.9" fill="#00c000"/><ellipse cx="867.4" cy="2479" rx="12.4" ry="11.9" fill="#00c000"/><ellipse cx="894" cy="2479" rx="12.4" ry="11.9" fill="#00c000"/><ellipse cx="919.9" cy="2478.2" rx="12.4" ry="11.9" fill="#00c000"/><ellipse cx="946.6" cy="2477.4" rx="12.4" ry="11.9" fill="#00c000"/><ellipse cx="971.7" cy="2477" rx="12.4" ry="11.9" fill="#00c000"/><ellipse cx="1003.1" cy="2476.1" rx="12.4" ry="11.9" fill="#00c000"/><ellipse cx="1026.6" cy="2474.9" rx="12.4" ry="11.9" fill="#00c000"/><ellipse cx="1050.1" cy="2474.1" rx="12.4" ry="11.9" fill="#00c000"/><ellipse cx="1081.5" cy="2474.5" rx="12.4" ry="11.9" fill="#00c000"/><ellipse cx="1105.1" cy="2474.1" rx="12.4" ry="11.9" fill="#00c000"/><ellipse cx="1128.6" cy="2473.2" rx="12.4" ry="11.9" fill="#00c000"/><ellipse cx="1160" cy="2472.8" rx="12.4" ry="11.9" fill="#00c000"/><ellipse cx="1183.5" cy="2472" rx="12.4" ry="11.9" fill="#00c000"/><ellipse cx="1214.9" cy="2471.2" rx="12.4" ry="11.9" fill="#00c000"/><ellipse cx="1238.4" cy="2470.3" rx="12.4" ry="11.9" fill="#00c000"/><ellipse cx="1262" cy="2469.9" rx="12.4" ry="11.9" fill="#00c000"/><ellipse cx="1293.3" cy="2469.1" rx="12.4" ry="11.9" fill="#00c000"/><ellipse cx="1316.9" cy="2468.3" rx="12.4" ry="11.9" fill="#00c000"/><ellipse cx="1340.4" cy="2467.4" rx="12.4" ry="11.9" fill="#00c000"/><ellipse cx="1371.8" cy="2467.7" rx="12.4" ry="11.9" fill="#00c000"/><ellipse cx="1395.3" cy="2466.8" rx="12.4" ry="11.9" fill="#00c000"/><ellipse cx="1426.7" cy="2466.4" rx="12.4" ry="11.9" fill="#00c000"/><ellipse cx="1450.2" cy="2465.6" rx="12.4" ry="11.9" fill="#00c000"/><ellipse cx="1473.8" cy="2465.2" rx="12.4" ry="11.9" fill="#00c000"/><ellipse cx="1505.1" cy="2464.8" rx="12.4" ry="11.9" fill="#00c000"/><ellipse cx="1528.7" cy="2464.1" rx="12.4" ry="11.9" fill="#00c000"/><ellipse cx="1552.2" cy="2463.5" rx="12.4" ry="11.9" fill="#00c000"/><ellipse cx="1583.6" cy="2463.3" rx="12.4" ry="11.9" fill="#00c000"/><ellipse cx="1607.1" cy="2462.5" rx="12.4" ry="11.9" fill="#00c000"/><ellipse cx="1635.4" cy="2461.7" rx="12.4" ry="11.9" fill="#00c000"/><ellipse cx="1662" cy="2460.8" rx="12.4" ry="11.9" fill="#00c000"/><ellipse cx="1685.6" cy="2460" rx="12.4" ry="11.9" fill="#00c000"/><ellipse cx="1717" cy="2459.6" rx="12.4" ry="11.9" fill="#00c000"/><ellipse cx="1740.5" cy="2459.2" rx="12.4" ry="11.9" fill="#00c000"/></g>
</g>
<g>
<g class="m"><ellipse cx="179.3" cy="2497.4" rx="12.4" ry="11.9" fill="#006000"/><ellipse cx="205.8" cy="2495.7" rx="12.4" ry="11.9" fill="#006000"/><ellipse cx="232.3" cy="2495.4" rx="12.4" ry="11.9" fill="#006000"/><ellipse cx="258.6" cy="2497.4" rx="12.4" ry="11.9" fill="#006000"/><ellipse cx="285.3" cy="2493.3" rx="12.4" ry="11.9" fill="#006000"/><ellipse cx="311.9" cy="2492" rx="12.4" ry="11.9" fill="#006000"/><ellipse cx="337.8" cy="2493.3" rx="12.4" ry="11.9" fill="#006000"/><ellipse cx="364.5" cy="2490.5" rx="12.4" ry="11.9" fill="#006000"/><ellipse cx="391.2" cy="2490.2" rx="12.4" ry="11.9" fill="#006000"/><ellipse cx="417.8" cy="2490.5" rx="12.4" ry="11.9" fill="#006000"/><ellipse cx="443.7" cy="2488.8" rx="12.4" ry="11.9" fill="#006000"/><ellipse cx="470.4" cy="2487.6" rx="12.4" ry="11.9" fill="#006000"/><ellipse cx="497.1" cy="2487.7" rx="12.4" ry="11.9" fill="#006000"/><ellipse cx="523" cy="2487.3" rx="12.4" ry="11.9" fill="#006000"/><ellipse cx="549.6" cy="2486.5" rx="12.4" ry="11.9" fill="#006000"/><ellipse cx="576.3" cy="2486.1" rx="12.4" ry="11.9" fill="#006000"/><ellipse cx="603" cy="2485.2" rx="12.4" ry="11.9" fill="#006000"/><ellipse cx="628.9" cy="2484" rx="12.4" ry="11.9" fill="#006000"/><ellipse cx="655.5" cy="2483.2" rx="12.4" ry="11.9" fill="#006000"/><ellipse cx="682.2" cy="2481.9" rx="12.4" ry="11.9" fill="#006000"/><ellipse cx="708.9" cy="2482.3" rx="12.4" ry="11.9" fill="#006000"/><ellipse cx="734.8" cy="2481.5" rx="12.4" ry="11.9" fill="#006000"/><ellipse cx="761.4" cy="2481.1" rx="12.4" ry="11.9" fill="#006000"/><ellipse cx="788.1" cy="2480.3" rx="12.4" ry="11.9" fill="#006000"/><ellipse cx="814" cy="2479.4" rx="12.4" ry="11.9" fill="#006000"/><ellipse cx="840.7" cy="2479" rx="12.4" ry="11.9" fill="#006000"/><ellipse cx="867.4" cy="2477.8" rx="12.4" ry="11.9" fill="#006000"/><ellipse cx="894" cy="2477.8" rx="12.4" ry="11.9" fill="#006000"/><ellipse cx="919.9" cy="2477" rx="12.4" ry="11.9" fill="#006000"/><ellipse cx="946.6" cy="2476.1" rx="12.4" ry="11.9" fill="#006000"/><ellipse cx="971.7" cy="2475.7" rx="12.4" ry="11.9" fill="#006000"/><ellipse cx="1003.1" cy="2474.9" rx="12.4" ry="11.9" fill="#006000"/><ellipse cx="1026.6" cy="2473.7" rx="12.4" ry="11.9" fill="#006000"/><ellipse cx="1050.1" cy="2472.8" rx="12.4" ry="11.9" fill="#006000"/><ellipse cx="1081.5" cy="2472.6" rx="12.4" ry="11.9" fill="#006000"/><ellipse cx="1105.1" cy="2471.6" rx="12.4" ry="11.9" fill="#006000"/><ellipse cx="1128.6" cy="2470.8" rx="12.4" ry="11.9" fill="#006000"/><ellipse cx="1160" cy="2470.3" rx="12.4" ry="11.9" fill="#006000"/><ellipse cx="1183.5" cy="2469.5" rx="12.4" ry="11.9" fill="#006000"/><ellipse cx="1214.9" cy="2468.7" rx="12.4" ry="11.9" fill="#006000"/><ellipse cx="1238.4" cy="2467.9" rx="12.4" ry="11.9" fill="#006000"/><ellipse cx="1262" cy="2467.4" rx="12.4" ry="11.9" fill="#006000"/><ellipse cx="1293.3" cy="2466.6" rx="12.4" ry="11.9" fill="#006000"/><ellipse cx="1316.9" cy="2465.8" rx="12.4" ry="11.9" fill="#006000"/><ellipse cx="1340.4" cy="2465" rx="12.4" ry="11.9" fill="#006000"/><ellipse cx="1371.8" cy="2465" rx="12.4" ry="11.9" fill="#006000"/><ellipse cx="1395.3" cy="2464.1" rx="12.4" ry="11.9" fill="#006000"/><ellipse cx="1426.7" cy="2463.7" rx="12.4" ry="11.9" fill="#006000"/><ellipse cx="1450.2" cy="2462.9" rx="12.4" ry="11.9" fill="#006000"/><ellipse cx="1473.8" cy="2462.5" rx="12.4" ry="11.9" fill="#006000"/><ellipse cx="1505.1" cy="2462.1" rx="12.4" ry="11.9" fill="#006000"/><ellipse cx="1528.7" cy="2461.4" rx="12.4" ry="11.9" fill="#006000"/><ellipse cx="1552.2" cy="2460.8" rx="12.4" ry="11.9" fill="#006000"/><ellipse cx="1583.6" cy="2460.4" rx="12.4" ry="11.9" fill="#006000"/><ellipse cx="1607.1" cy="2459.6" rx="12.4" ry="11.9" fill="#006000"/><ellipse cx="1635.4" cy="2458.8" rx="12.4" ry="11.9" fill="#006000"/><ellipse cx="1662" cy="2457.9" rx="12.4" ry="11.9" fill="#006000"/><ellipse cx="1685.6" cy="2457.1" rx="12.4" ry="11.9" fill="#006000"/><ellipse cx="1717" cy="2456.7" rx="12.4" ry="11.9" fill="#006000"/><ellipse cx="1740.5" cy="2456.3" rx="12.4" ry="11.9" fill="#006000"/></g>
</g>
<g>
<path class="e" d="M179.9 2486.2V2497.2M163.9 2486.2h32M163.9 2497.2h32M206.4 2469.9V2480.9M190.4 2469.9h32M190.4 2480.9h32M232.9 2448.1V2460.3M216.9 2448.1h32M216.9 2460.3h32M259.2 2444.5V2456.7M243.2 2444.5h32M243.2 2456.7h32M285.9 2434.3V2446.5M269.9 2434.3h32M269.9 2446.5h32M312.5 2421.1V2432.1M296.5 2421.1h32M296.5 2432.1h32M338.4 2412.8V2423.8M322.4 2412.8h32M322.4 2423.8h32M365.1 2401.5V2412.5M349.1 2401.5h32M349.1 2412.5h32M391.8 2398.2V2408.1M375.8 2398.2h32M375.8 2408.1h32M418.4 2389.6V2398.5M402.4 2389.6h32M402.4 2398.5h32M444.3 2386.9V2392.8M428.3 2386.9h32M428.3 2392.8h32M471 2379.7V2385.1M455 2379.7h32M455 2385.1h32M497.7 2371.9V2376.1M481.7 2371.9h32M481.7 2376.1h32M523.6 2365.7V2369.9M507.6 2365.7h32M507.6 2369.9h32M550.2 2358.7V2362.8M534.2 2358.7h32M534.2 2362.8h32M576.9 2350.8V2355M560.9 2350.8h32M560.9 2355h32M603.6 2344.6V2348.8M587.6 2344.6h32M587.6 2348.8h32M629.5 2338.4V2342.6M613.5 2338.4h32M613.5 2342.6h32M656.1 2330.2V2334.3M640.1 2330.2h32M640.1 2334.3h32M682.8 2322.3V2326.4M666.8 2322.3h32M666.8 2326.4h32M709.5 2317.7V2321.9M693.5 2317.7h32M693.5 2321.9h32M735.4 2310.7V2314.8M719.4 2310.7h32M719.4 2314.8h32M762 2303.7V2307.8M746 2303.7h32M746 2307.8h32M788.7 2299.1V2303.3M772.7 2299.1h32M772.7 2303.3h32M814.6 2290.8V2295M798.6 2290.8h32M798.6 2295h32M841.3 2285.9V2290M825.3 2285.9h32M825.3 2290h32M868 2278.8V2283M852 2278.8h32M852 2283h32M894.6 2273.5V2277.6M878.6 2273.5h32M878.6 2277.6h32M920.5 2267.3V2272.2M904.5 2267.3h32M904.5 2272.2h32M947.2 2258.2V2264M931.2 2258.2h32M931.2 2264h32M972.3 2253.6V2260.3M956.3 2253.6h32M956.3 2260.3h32M1003.7 2246.2V2252.8M987.7 2246.2h32M987.7 2252.8h32M1027.2 2242.5V2249.1M1011.2 2242.5h32M1011.2 2249.1h32M1050.7 2234.8V2241.8M1034.7 2234.8h32M1034.7 2241.8h32M1082.1 2228.6V2235.6M1066.1 2228.6h32M1066.1 2235.6h32M1105.7 2223.6V2230.7M1089.7 2223.6h32M1089.7 2230.7h32M1129.2 2216.8V2224.3M1113.2 2216.8h32M1113.2 2224.3h32M1160.6 2213.1V2220.5M1144.6 2213.1h32M1144.6 2220.5h32M1184.1 2204.4V2211.8M1168.1 2204.4h32M1168.1 2211.8h32M1215.5 2199V2207.3M1199.5 2199h32M1199.5 2207.3h32M1239 2194V2202.3M1223 2194h32M1223 2202.3h32M1262.6 2187.4V2195.7M1246.6 2187.4h32M1246.6 2195.7h32M1293.9 2182.9V2192M1277.9 2182.9h32M1277.9 2192h32M1317.5 2177.1V2186.2M1301.5 2177.1h32M1301.5 2186.2h32M1341 2170V2180M1325 2170h32M1325 2180h32M1372.4 2164.7V2174.7M1356.4 2164.7h32M1356.4 2174.7h32M1395.9 2159.8V2170.6M1379.9 2159.8h32M1379.9 2170.6h32M1427.3 2153.2V2164.8M1411.3 2153.2h32M1411.3 2164.8h32M1450.8 2147.4V2159.8M1434.8 2147.4h32M1434.8 2159.8h32M1474.4 2140.8V2154M1458.4 2140.8h32M1458.4 2154h32M1505.7 2135V2149.1M1489.7 2135h32M1489.7 2149.1h32M1529.3 2130.4V2145.3M1513.3 2130.4h32M1513.3 2145.3h32M1552.8 2124.2V2140M1536.8 2124.2h32M1536.8 2140h32M1584.2 2116.4V2132.9M1568.2 2116.4h32M1568.2 2132.9h32M1607.7 2112.2V2128.8M1591.7 2112.2h32M1591.7 2128.8h32M1636 2105.6V2123M1620 2105.6h32M1620 2123h32M1662.6 2100.2V2117.6M1646.6 2100.2h32M1646.6 2117.6h32M1686.2 2094.9V2113.1M1670.2 2094.9h32M1670.2 2113.1h32M1717.6 2088.7V2106.9M1701.6 2088.7h32M1701.6 2106.9h32M1741.1 2083.7V2101.9M1725.1 2083.7h32M1725.1 2101.9h32"/>
<g class="m"><path d="M167 2484.1h26l-13 22.6z" fill="#0080ff"/><path d="M193.5 2467.8h26l-13 22.6z" fill="#0080ff"/><path d="M220 2446.6h26l-13 22.6z" fill="#0080ff"/><path d="M246.3 2443h26l-13 22.6z" fill="#0080ff"/><path d="M273 2432.8h26l-13 22.6z" fill="#0080ff"/><path d="M299.6 2419h26l-13 22.6z" fill="#0080ff"/><path d="M325.5 2410.7h26l-13 22.6z" fill="#0080ff"/><path d="M352.2 2399.4h26l-13 22.6z" fill="#0080ff"/><path d="M378.9 2395.6h26l-13 22.6z" fill="#0080ff"/><path d="M405.5 2386.4h26l-13 22.6z" fill="#0080ff"/><path d="M431.4 2382.2h26l-13 22.6z" fill="#0080ff"/><path d="M458.1 2374.8h26l-13 22.6z" fill="#0080ff"/><path d="M484.8 2366.4h26l-13 22.6z" fill="#0080ff"/><path d="M510.7 2360.2h26l-13 22.6z" fill="#0080ff"/><path d="M537.3 2353.2h26l-13 22.6z" fill="#0080ff"/><path d="M564 2345.3h26l-13 22.6z" fill="#0080ff"/><path d="M590.7 2339.1h26l-13 22.6z" fill="#0080ff"/><path d="M616.6 2332.9h26l-13 22.6z" fill="#0080ff"/><path d="M643.2 2324.6h26l-13 22.6z" fill="#0080ff"/><path d="M669.9 2316.8h26l-13 22.6z" fill="#0080ff"/><path d="M696.6 2312.2h26l-13 22.6z" fill="#0080ff"/><path d="M722.5 2305.2h26l-13 22.6z" fill="#0080ff"/><path d="M749.1 2298.1h26l-13 22.6z" fill="#0080ff"/><path d="M775.8 2293.6h26l-13 22.6z" fill="#0080ff"/><path d="M801.7 2285.3h26l-13 22.6z" fill="#0080ff"/><path d="M828.4 2280.3h26l-13 22.6z" fill="#0080ff"/><path d="M855.1 2273.3h26l-13 22.6z" fill="#0080ff"/><path d="M881.7 2267.9h26l-13 22.6z" fill="#0080ff"/><path d="M907.6 2262.2h26l-13 22.6z" fill="#0080ff"/><path d="M934.3 2253.5h26l-13 22.6z" fill="#0080ff"/><path d="M959.4 2249.3h26l-13 22.6z" fill="#0080ff"/><path d="M990.8 2241.9h26l-13 22.6z" fill="#0080ff"/><path d="M1014.3 2238.2h26l-13 22.6z" fill="#0080ff"/><path d="M1037.8 2230.7h26l-13 22.6z" fill="#0080ff"/><path d="M1069.2 2224.5h26l-13 22.6z" fill="#0080ff"/><path d="M1092.8 2219.6h26l-13 22.6z" fill="#0080ff"/><path d="M1116.3 2212.9h26l-13 22.6z" fill="#0080ff"/><path d="M1147.7 2209.2h26l-13 22.6z" fill="#0080ff"/><path d="M1171.2 2200.5h26l-13 22.6z" fill="#0080ff"/><path d="M1202.6 2195.6h26l-13 22.6z" fill="#0080ff"/><path d="M1226.1 2190.6h26l-13 22.6z" fill="#0080ff"/><path d="M1249.7 2184h26l-13 22.6z" fill="#0080ff"/><path d="M1281 2179.8h26l-13 22.6z" fill="#0080ff"/><path d="M1304.6 2174h26l-13 22.6z" fill="#0080ff"/><path d="M1328.1 2167.4h26l-13 22.6z" fill="#0080ff"/><path d="M1359.5 2162.1h26l-13 22.6z" fill="#0080ff"/><path d="M1383 2157.6h26l-13 22.6z" fill="#0080ff"/><path d="M1414.4 2151.4h26l-13 22.6z" fill="#0080ff"/><path d="M1437.9 2146h26l-13 22.6z" fill="#0080ff"/><path d="M1461.5 2139.8h26l-13 22.6z" fill="#0080ff"/><path d="M1492.8 2134.4h26l-13 22.6z" fill="#0080ff"/><path d="M1516.4 2130.3h26l-13 22.6z" fill="#0080ff"/><path d="M1539.9 2124.5h26l-13 22.6z" fill="#0080ff"/><path d="M1571.3 2117.1h26l-13 22.6z" fill="#0080ff"/><path d="M1594.8 2112.9h26l-13 22.6z" fill="#0080ff"/><path d="M1623.1 2106.7h26l-13 22.6z" fill="#0080ff"/><path d="M1649.7 2101.3h26l-13 22.6z" fill="#0080ff"/><path d="M1673.3 2096.4h26l-13 22.6z" fill="#0080ff"/><path d="M1704.7 2090.2h26l-13 22.6z" fill="#0080ff"/><path d="M1728.2 2085.2h26l-13 22.6z" fill="#0080ff"/></g>
</g>
<g>
<path class="e" d="M179.9 2471.6V2506.9M163.9 2471.6h32M163.9 2506.9h32M206.4 2336.7V2415.9M190.4 2336.7h32M190.4 2415.9h32M232.9 2293.7V2381.9M216.9 2293.7h32M216.9 2381.9h32M259.2 2264.7V2355.7M243.2 2264.7h32M243.2 2355.7h32M285.9 2254.5V2335.9M269.9 2254.5h32M269.9 2335.9h32M312.5 2244V2320.7M296.5 2244h32M296.5 2320.7h32M338.4 2220V2307.7M322.4 2220h32M322.4 2307.7h32M365.1 2200.7V2289M349.1 2200.7h32M349.1 2289h32M391.8 2178.9V2268.8M375.8 2178.9h32M375.8 2268.8h32M418.4 2174.2V2260.8M402.4 2174.2h32M402.4 2260.8h32M444.3 2152.7V2242.2M428.3 2152.7h32M428.3 2242.2h32M471 2140.2V2232.1M455 2140.2h32M455 2232.1h32M497.7 2125V2218.3M481.7 2125h32M481.7 2218.3h32M523.6 2112.1V2205M507.6 2112.1h32M507.6 2205h32M550.2 2097.7V2189.9M534.2 2097.7h32M534.2 2189.9h32M576.9 2083.9V2180.2M560.9 2083.9h32M560.9 2180.2h32M603.6 2068.8V2166.7M587.6 2068.8h32M587.6 2166.7h32M629.5 2059.1V2154.8M613.5 2059.1h32M613.5 2154.8h32M656.1 2043.9V2138.8M640.1 2043.9h32M640.1 2138.8h32M682.8 2034.8V2132.8M666.8 2034.8h32M666.8 2132.8h32M709.5 2022.4V2120.9M693.5 2022.4h32M693.5 2120.9h32M735.4 2011.9V2110.1M719.4 2011.9h32M719.4 2110.1h32M762 1998.7V2099.7M746 1998.7h32M746 2099.7h32M788.7 1987.9V2088.6M772.7 1987.9h32M772.7 2088.6h32M814.6 1976.9V2080.9M798.6 1976.9h32M798.6 2080.9h32M841.3 1961.7V2070.1M825.3 1961.7h32M825.3 2070.1h32M868 1952.1V2059.7M852 1952.1h32M852 2059.7h32M894.6 1941V2050M878.6 1941h32M878.6 2050h32M920.5 1928.1V2039M904.5 1928.1h32M904.5 2039h32M947.2 1919.8V2030.7M931.2 1919.8h32M931.2 2030.7h32M972.3 1907.1V2021M956.3 1907.1h32M956.3 2021h32M1003.7 1896.1V2009.4M987.7 1896.1h32M987.7 2009.4h32M1027.2 1883.7V2002.3M1011.2 1883.7h32M1011.2 2002.3h32M1050.7 1871.2V1991.9M1034.7 1871.2h32M1034.7 1991.9h32M1082.1 1861V1982.1M1066.1 1861h32M1066.1 1982.1h32M1105.7 1848.8V1971.6M1089.7 1848.8h32M1089.7 1971.6h32M1129.2 1840.3V1965.5M1113.2 1840.3h32M1113.2 1965.5h32M1160.6 1829V1955.3M1144.6 1829h32M1144.6 1955.3h32M1184.1 1817.4V1947.6M1168.1 1817.4h32M1168.1 1947.6h32M1215.5 1806.9V1938.5M1199.5 1806.9h32M1199.5 1938.5h32M1239 1796.7V1928.8M1223 1796.7h32M1223 1928.8h32M1262.6 1787.6V1920.8M1246.6 1787.6h32M1246.6 1920.8h32M1293.9 1775.7V1909.5M1277.9 1775.7h32M1277.9 1909.5h32M1317.5 1765.8V1905.7M1301.5 1765.8h32M1301.5 1905.7h32M1341 1755.6V1899.6M1325 1755.6h32M1325 1899.6h32M1372.4 1742.9V1891.5M1356.4 1742.9h32M1356.4 1891.5h32M1395.9 1735V1882.6M1379.9 1735h32M1379.9 1882.6h32M1427.3 1724.8V1873.4M1411.3 1724.8h32M1411.3 1873.4h32M1450.8 1713.7V1866.6M1434.8 1713.7h32M1434.8 1866.6h32M1474.4 1704.1V1858.3M1458.4 1704.1h32M1458.4 1858.3h32M1505.7 1692.8V1851.4M1489.7 1692.8h32M1489.7 1851.4h32M1529.3 1682.9V1841.7M1513.3 1682.9h32M1513.3 1841.7h32M1552.8 1673.9V1834.6M1536.8 1673.9h32M1536.8 1834.6h32M1584.2 1664.3V1825.5M1568.2 1664.3h32M1568.2 1825.5h32M1607.7 1651.3V1819.6M1591.7 1651.3h32M1591.7 1819.6h32M1636 1645.4V1811.7M1620 1645.4h32M1620 1811.7h32M1662.6 1634.3V1804.4M1646.6 1634.3h32M1646.6 1804.4h32M1686.2 1625.6V1796.1M1670.2 1625.6h32M1670.2 1796.1h32M1717.6 1615.1V1788.3M1701.6 1615.1h32M1701.6 1788.3h32M1741.1 1608.2V1780.6M1725.1 1608.2h32M1725.1 1780.6h32"/>
<g class="m"><path d="M167 2481.6h26l-13 22.6z" fill="#004080"/><path d="M193.5 2368.7h26l-13 22.6z" fill="#004080"/><path d="M220 2330.2h26l-13 22.6z" fill="#004080"/><path d="M246.3 2302.6h26l-13 22.6z" fill="#004080"/><path d="M273 2287.6h26l-13 22.6z" fill="#004080"/><path d="M299.6 2274.7h26l-13 22.6z" fill="#004080"/><path d="M325.5 2256.3h26l-13 22.6z" fill="#004080"/><path d="M352.2 2237.2h26l-13 22.6z" fill="#004080"/><path d="M378.9 2216.3h26l-13 22.6z" fill="#004080"/><path d="M405.5 2209.9h26l-13 22.6z" fill="#004080"/><path d="M431.4 2189.8h26l-13 22.6z" fill="#004080"/><path d="M458.1 2178.5h26l-13 22.6z" fill="#004080"/><path d="M484.8 2164.1h26l-13 22.6z" fill="#004080"/><path d="M510.7 2151h26l-13 22.6z" fill="#004080"/><path d="M537.3 2136.2h26l-13 22.6z" fill="#004080"/><path d="M564 2124.5h26l-13 22.6z" fill="#004080"/><path d="M590.7 2110.1h26l-13 22.6z" fill="#004080"/><path d="M616.6 2099.4h26l-13 22.6z" fill="#004080"/><path d="M643.2 2083.8h26l-13 22.6z" fill="#004080"/><path d="M669.9 2076.2h26l-13 22.6z" fill="#004080"/><path d="M696.6 2064.1h26l-13 22.6z" fill="#004080"/><path d="M722.5 2053.4h26l-13 22.6z" fill="#004080"/><path d="M749.1 2041.6h26l-13 22.6z" fill="#004080"/><path d="M775.8 2030.7h26l-13 22.6z" fill="#004080"/><path d="M801.7 2021.3h26l-13 22.6z" fill="#004080"/><path d="M828.4 2008.3h26l-13 22.6z" fill="#004080"/><path d="M855.1 1998.3h26l-13 22.6z" fill="#004080"/><path d="M881.7 1987.9h26l-13 22.6z" fill="#004080"/><path d="M907.6 1975.9h26l-13 22.6z" fill="#004080"/><path d="M934.3 1967.6h26l-13 22.6z" fill="#004080"/><path d="M959.4 1956.5h26l-13 22.6z" fill="#004080"/><path d="M990.8 1945.2h26l-13 22.6z" fill="#004080"/><path d="M1014.3 1935.4h26l-13 22.6z" fill="#004080"/><path d="M1037.8 1924h26l-13 22.6z" fill="#004080"/><path d="M1069.2 1913.9h26l-13 22.6z" fill="#004080"/><path d="M1092.8 1902.6h26l-13 22.6z" fill="#004080"/><path d="M1116.3 1895.3h26l-13 22.6z" fill="#004080"/><path d="M1147.7 1884.5h26l-13 22.6z" fill="#004080"/><path d="M1171.2 1874.9h26l-13 22.6z" fill="#004080"/><path d="M1202.6 1865.1h26l-13 22.6z" fill="#004080"/><path d="M1226.1 1855.2h26l-13 22.6z" fill="#004080"/><path d="M1249.7 1846.6h26l-13 22.6z" fill="#004080"/><path d="M1281 1835h26l-13 22.6z" fill="#004080"/><path d="M1304.6 1828.1h26l-13 22.6z" fill="#004080"/><path d="M1328.1 1820h26l-13 22.6z" fill="#004080"/><path d="M1359.5 1809.6h26l-13 22.6z" fill="#004080"/><path d="M1383 1801.2h26l-13 22.6z" fill="#004080"/><path d="M1414.4 1791.5h26l-13 22.6z" fill="#004080"/><path d="M1437.9 1782.5h26l-13 22.6z" fill="#004080"/><path d="M1461.5 1773.6h26l-13 22.6z" fill="#004080"/><path d="M1492.8 1764.5h26l-13 22.6z" fill="#004080"/><path d="M1516.4 1754.7h26l-13 22.6z" fill="#004080"/><path d="M1539.9 1746.7h26l-13 22.6z" fill="#004080"/><path d="M1571.3 1737.3h26l-13 22.6z" fill="#004080"/><path d="M1594.8 1727.8h26l-13 22.6z" fill="#004080"/><path d="M1623.1 1721h26l-13 22.6z" fill="#004080"/><path d="M1649.7 1711.8h26l-13 22.6z" fill="#004080"/><path d="M1673.3 1703.2h26l-13 22.6z" fill="#004080"/><path d="M1704.7 1694.1h26l-13 22.6z" fill="#004080"/><path d="M1728.2 1686.8h26l-13 22.6z" fill="#004080"/></g>
</g>
<rect class="a" x="164" y="1501.5" width="1616.5" height="1006"/>
<path class="a" d="M172.1 2507.5v14.5M564.4 2507.5v14.5M956.6 2507.5v14.5M1348.8 2507.5v14.5M1741.1 2507.5v14.5M164 2497h-16.5M164 2248.2h-16.5M164 1999.3h-16.5M164 1750.4h-16.5M164 1501.6h-16.5"/>
<text x="159.6" y="2588.8" font-size="48.5" textLength="27" lengthAdjust="spacingAndGlyphs">0</text>
<text x="538.4" y="2588.8" font-size="48.5" textLength="53.9" lengthAdjust="spacingAndGlyphs">50</text>
<text x="916.3" y="2588.8" font-size="48.5" textLength="80.9" lengthAdjust="spacingAndGlyphs">100</text>
<text x="1308.5" y="2588.8" font-size="48.5" textLength="80.9" lengthAdjust="spacingAndGlyphs">150</text>
<text x="1701.4" y="2588.8" font-size="48.5" textLength="80.9" lengthAdjust="spacingAndGlyphs">200</text>
<text x="95.2" y="2513.5" font-size="49.5" textLength="27.5" lengthAdjust="spacingAndGlyphs">0</text>
<text x="95.3" y="2264" font-size="49.5" textLength="27.5" lengthAdjust="spacingAndGlyphs">5</text>
<text x="67.7" y="2015.3" font-size="49.5" textLength="55.1" lengthAdjust="spacingAndGlyphs">10</text>
<text x="67.8" y="1766.1" font-size="49.5" textLength="55.1" lengthAdjust="spacingAndGlyphs">15</text>
<text x="67.7" y="1518.1" font-size="49.5" textLength="55.1" lengthAdjust="spacingAndGlyphs">20</text>
<text y="2684" font-size="56"><tspan x="783.1" dy="0" font-size="56" textLength="312.3" lengthAdjust="spacingAndGlyphs">Shear rate (s</tspan><tspan x="1093" dy="-22.7" font-size="50" textLength="44.3" lengthAdjust="spacingAndGlyphs">-1</tspan><tspan x="1143.1" dy="22.7" font-size="56" textLength="19.2" lengthAdjust="spacingAndGlyphs">)</tspan></text>
<text x="184.6" y="1573.8" font-size="44.4" textLength="706.3" lengthAdjust="spacingAndGlyphs">Oil content (% w/w) - Pressure (bar)</text>
<g class="m">
<ellipse cx="448.3" cy="1622.8" rx="12.4" ry="11.9" fill="#00c000"/>
<ellipse cx="448.3" cy="1676.8" rx="12.4" ry="11.9" fill="#006000"/>
<path d="M436.5 1725h26.6l-13.3 22.6z" fill="#0080ff"/>
<path d="M436.5 1779h26.6l-13.3 22.6z" fill="#004080"/>
</g>
<text x="521.9" y="1638.1" font-size="42" textLength="152.4" lengthAdjust="spacingAndGlyphs">30 - 500</text>
<text x="521.9" y="1692.1" font-size="42" textLength="175.5" lengthAdjust="spacingAndGlyphs">30 - 1000</text>
<text x="521.8" y="1746.1" font-size="42" textLength="152.4" lengthAdjust="spacingAndGlyphs">50 - 500</text>
<text x="521.8" y="1800.1" font-size="42" textLength="175.5" lengthAdjust="spacingAndGlyphs">50 - 1000</text>
<text x="1270.2" y="1571.6" font-size="56" textLength="483.7" lengthAdjust="spacingAndGlyphs">Whey protein isolate</text>
</g>
<g id="plot3">
<text x="90.7" y="2772.7" font-size="56" textLength="421" lengthAdjust="spacingAndGlyphs">Shear stress (Pa)</text>
<g>
<path class="e" d="M186.4 3789.8V3822.9M170.4 3789.8h32M170.4 3822.9h32M212.9 3798.6V3806.9M196.9 3798.6h32M196.9 3806.9h32M239.4 3793.9V3802.2M223.4 3793.9h32M223.4 3802.2h32M265.7 3795V3803.3M249.7 3795h32M249.7 3803.3h32M292.4 3793.1V3801.4M276.4 3793.1h32M276.4 3801.4h32M319 3786.2V3794.5M303 3786.2h32M303 3794.5h32M344.9 3781.5V3789.8M328.9 3781.5h32M328.9 3789.8h32M371.6 3771.9V3780.1M355.6 3771.9h32M355.6 3780.1h32M398.3 3784V3792.3M382.3 3784h32M382.3 3792.3h32M424.9 3771.9V3780.1M408.9 3771.9h32M408.9 3780.1h32M450.8 3763.7V3770.3M434.8 3763.7h32M434.8 3770.3h32M477.5 3761.7V3766.7M461.5 3761.7h32M461.5 3766.7h32M504.2 3759.7V3764.6M488.2 3759.7h32M488.2 3764.6h32M530.1 3753.5V3758.4M514.1 3753.5h32M514.1 3758.4h32M556.7 3750.1V3755.1M540.7 3750.1h32M540.7 3755.1h32M583.4 3746V3751M567.4 3746h32M567.4 3751h32M610.1 3746V3751M594.1 3746h32M594.1 3751h32M636 3742.7V3747.7M620 3742.7h32M620 3747.7h32M662.6 3734.4V3739.4M646.6 3734.4h32M646.6 3739.4h32M689.3 3734.4V3739.4M673.3 3734.4h32M673.3 3739.4h32M716 3728.6V3733.6M700 3728.6h32M700 3733.6h32M741.9 3726.6V3731.5M725.9 3726.6h32M725.9 3731.5h32M768.5 3721.2V3726.1M752.5 3721.2h32M752.5 3726.1h32M795.2 3718.3V3723.2M779.2 3718.3h32M779.2 3723.2h32M821.1 3715.8V3720.8M805.1 3715.8h32M805.1 3720.8h32M847.8 3709.6V3714.6M831.8 3709.6h32M831.8 3714.6h32M874.5 3705.9V3710.8M858.5 3705.9h32M858.5 3710.8h32M901.1 3703.4V3709.2M885.1 3703.4h32M885.1 3709.2h32M927 3697.6V3704.2M911 3697.6h32M911 3704.2h32M953.7 3694.7V3701.3M937.7 3694.7h32M937.7 3701.3h32M978.8 3692.2V3698.8M962.8 3692.2h32M962.8 3698.8h32M1010.2 3688.1V3694.7M994.2 3688.1h32M994.2 3694.7h32M1033.7 3686.4V3693M1017.7 3686.4h32M1017.7 3693h32M1057.2 3679V3685.6M1041.2 3679h32M1041.2 3685.6h32M1088.6 3677.7V3684.3M1072.6 3677.7h32M1072.6 3684.3h32M1112.2 3673.6V3680.2M1096.2 3673.6h32M1096.2 3680.2h32M1135.7 3669.9V3676.5M1119.7 3669.9h32M1119.7 3676.5h32M1167.1 3664.5V3671.1M1151.1 3664.5h32M1151.1 3671.1h32M1190.6 3661.2V3667.8M1174.6 3661.2h32M1174.6 3667.8h32M1222 3658.3V3664.9M1206 3658.3h32M1206 3664.9h32M1245.5 3655V3661.6M1229.5 3655h32M1229.5 3661.6h32M1269.1 3652.9V3659.5M1253.1 3652.9h32M1253.1 3659.5h32M1300.4 3648.8V3655.4M1284.4 3648.8h32M1284.4 3655.4h32M1324 3643.8V3650.4M1308 3643.8h32M1308 3650.4h32M1347.5 3642.2V3649.2M1331.5 3642.2h32M1331.5 3649.2h32M1378.9 3637V3644.1M1362.9 3637h32M1362.9 3644.1h32M1402.4 3633.2V3641.5M1386.4 3633.2h32M1386.4 3641.5h32M1433.8 3628.6V3636.9M1417.8 3628.6h32M1417.8 3636.9h32M1457.3 3624.5V3633.6M1441.3 3624.5h32M1441.3 3633.6h32M1480.9 3622V3631.1M1464.9 3622h32M1464.9 3631.1h32M1512.2 3618.7V3628.6M1496.2 3618.7h32M1496.2 3628.6h32M1535.8 3613.3V3623.2M1519.8 3613.3h32M1519.8 3623.2h32M1559.3 3610.4V3621.2M1543.3 3610.4h32M1543.3 3621.2h32M1590.7 3606.7V3617.5M1574.7 3606.7h32M1574.7 3617.5h32M1614.2 3602.6V3614.1M1598.2 3602.6h32M1598.2 3614.1h32M1642.5 3599.2V3610.8M1626.5 3599.2h32M1626.5 3610.8h32M1669.1 3595.5V3607.9M1653.1 3595.5h32M1653.1 3607.9h32M1692.7 3592.6V3605M1676.7 3592.6h32M1676.7 3605h32M1724.1 3588.5V3600.9M1708.1 3588.5h32M1708.1 3600.9h32M1747.6 3585.6V3598M1731.6 3585.6h32M1731.6 3598h32"/>
<g class="m"><ellipse cx="185.8" cy="3806.3" rx="12.4" ry="11.9" fill="#00c000"/><ellipse cx="212.3" cy="3802.8" rx="12.4" ry="11.9" fill="#00c000"/><ellipse cx="238.8" cy="3798.1" rx="12.4" ry="11.9" fill="#00c000"/><ellipse cx="265.1" cy="3799.2" rx="12.4" ry="11.9" fill="#00c000"/><ellipse cx="291.8" cy="3797.2" rx="12.4" ry="11.9" fill="#00c000"/><ellipse cx="318.4" cy="3790.3" rx="12.4" ry="11.9" fill="#00c000"/><ellipse cx="344.3" cy="3785.7" rx="12.4" ry="11.9" fill="#00c000"/><ellipse cx="371" cy="3776" rx="12.4" ry="11.9" fill="#00c000"/><ellipse cx="397.7" cy="3788.1" rx="12.4" ry="11.9" fill="#00c000"/><ellipse cx="424.3" cy="3776" rx="12.4" ry="11.9" fill="#00c000"/><ellipse cx="450.2" cy="3767" rx="12.4" ry="11.9" fill="#00c000"/><ellipse cx="476.9" cy="3764.2" rx="12.4" ry="11.9" fill="#00c000"/><ellipse cx="503.6" cy="3762.1" rx="12.4" ry="11.9" fill="#00c000"/><ellipse cx="529.5" cy="3755.9" rx="12.4" ry="11.9" fill="#00c000"/><ellipse cx="556.1" cy="3752.6" rx="12.4" ry="11.9" fill="#00c000"/><ellipse cx="582.8" cy="3748.5" rx="12.4" ry="11.9" fill="#00c000"/><ellipse cx="609.5" cy="3748.5" rx="12.4" ry="11.9" fill="#00c000"/><ellipse cx="635.4" cy="3745.2" rx="12.4" ry="11.9" fill="#00c000"/><ellipse cx="662" cy="3736.9" rx="12.4" ry="11.9" fill="#00c000"/><ellipse cx="688.7" cy="3736.9" rx="12.4" ry="11.9" fill="#00c000"/><ellipse cx="715.4" cy="3731.1" rx="12.4" ry="11.9" fill="#00c000"/><ellipse cx="741.3" cy="3729" rx="12.4" ry="11.9" fill="#00c000"/><ellipse cx="767.9" cy="3723.7" rx="12.4" ry="11.9" fill="#00c000"/><ellipse cx="794.6" cy="3720.8" rx="12.4" ry="11.9" fill="#00c000"/><ellipse cx="820.5" cy="3718.3" rx="12.4" ry="11.9" fill="#00c000"/><ellipse cx="847.2" cy="3712.1" rx="12.4" ry="11.9" fill="#00c000"/><ellipse cx="873.9" cy="3708.3" rx="12.4" ry="11.9" fill="#00c000"/><ellipse cx="900.5" cy="3706.3" rx="12.4" ry="11.9" fill="#00c000"/><ellipse cx="926.4" cy="3700.9" rx="12.4" ry="11.9" fill="#00c000"/><ellipse cx="953.1" cy="3698" rx="12.4" ry="11.9" fill="#00c000"/><ellipse cx="978.2" cy="3695.5" rx="12.4" ry="11.9" fill="#00c000"/><ellipse cx="1009.6" cy="3691.4" rx="12.4" ry="11.9" fill="#00c000"/><ellipse cx="1033.1" cy="3689.7" rx="12.4" ry="11.9" fill="#00c000"/><ellipse cx="1056.6" cy="3682.3" rx="12.4" ry="11.9" fill="#00c000"/><ellipse cx="1088" cy="3681" rx="12.4" ry="11.9" fill="#00c000"/><ellipse cx="1111.6" cy="3676.9" rx="12.4" ry="11.9" fill="#00c000"/><ellipse cx="1135.1" cy="3673.2" rx="12.4" ry="11.9" fill="#00c000"/><ellipse cx="1166.5" cy="3667.8" rx="12.4" ry="11.9" fill="#00c000"/><ellipse cx="1190" cy="3664.5" rx="12.4" ry="11.9" fill="#00c000"/><ellipse cx="1221.4" cy="3661.6" rx="12.4" ry="11.9" fill="#00c000"/><ellipse cx="1244.9" cy="3658.3" rx="12.4" ry="11.9" fill="#00c000"/><ellipse cx="1268.5" cy="3656.2" rx="12.4" ry="11.9" fill="#00c000"/><ellipse cx="1299.8" cy="3652.1" rx="12.4" ry="11.9" fill="#00c000"/><ellipse cx="1323.4" cy="3647.1" rx="12.4" ry="11.9" fill="#00c000"/><ellipse cx="1346.9" cy="3645.7" rx="12.4" ry="11.9" fill="#00c000"/><ellipse cx="1378.3" cy="3640.6" rx="12.4" ry="11.9" fill="#00c000"/><ellipse cx="1401.8" cy="3637.3" rx="12.4" ry="11.9" fill="#00c000"/><ellipse cx="1433.2" cy="3632.8" rx="12.4" ry="11.9" fill="#00c000"/><ellipse cx="1456.7" cy="3629" rx="12.4" ry="11.9" fill="#00c000"/><ellipse cx="1480.3" cy="3626.6" rx="12.4" ry="11.9" fill="#00c000"/><ellipse cx="1511.6" cy="3623.7" rx="12.4" ry="11.9" fill="#00c000"/><ellipse cx="1535.2" cy="3618.3" rx="12.4" ry="11.9" fill="#00c000"/><ellipse cx="1558.7" cy="3615.8" rx="12.4" ry="11.9" fill="#00c000"/><ellipse cx="1590.1" cy="3612.1" rx="12.4" ry="11.9" fill="#00c000"/><ellipse cx="1613.6" cy="3608.3" rx="12.4" ry="11.9" fill="#00c000"/><ellipse cx="1641.9" cy="3605" rx="12.4" ry="11.9" fill="#00c000"/><ellipse cx="1668.5" cy="3601.7" rx="12.4" ry="11.9" fill="#00c000"/><ellipse cx="1692.1" cy="3598.8" rx="12.4" ry="11.9" fill="#00c000"/><ellipse cx="1723.5" cy="3594.7" rx="12.4" ry="11.9" fill="#00c000"/><ellipse cx="1747" cy="3591.8" rx="12.4" ry="11.9" fill="#00c000"/></g>
</g>
<g>
<path class="e" d="M186.4 3783.4V3827.6M170.4 3783.4h32M170.4 3827.6h32M212.9 3797.2V3805.5M196.9 3797.2h32M196.9 3805.5h32M239.4 3793.1V3801.4M223.4 3793.1h32M223.4 3801.4h32M265.7 3794.5V3802.8M249.7 3794.5h32M249.7 3802.8h32M292.4 3794.5V3802.8M276.4 3794.5h32M276.4 3802.8h32M319 3785.7V3793.9M303 3785.7h32M303 3793.9h32M344.9 3789.8V3798.1M328.9 3789.8h32M328.9 3798.1h32M371.6 3782.3V3790.6M355.6 3782.3h32M355.6 3790.6h32M398.3 3784.8V3793.1M382.3 3784.8h32M382.3 3793.1h32M424.9 3779.6V3787.9M408.9 3779.6h32M408.9 3787.9h32M450.8 3775.1V3781.8M434.8 3775.1h32M434.8 3781.8h32M477.5 3775.4V3780.3M461.5 3775.4h32M461.5 3780.3h32M504.2 3774.1V3779.1M488.2 3774.1h32M488.2 3779.1h32M530.1 3770.8V3775.8M514.1 3770.8h32M514.1 3775.8h32M556.7 3765.5V3770.4M540.7 3765.5h32M540.7 3770.4h32M583.4 3765V3770M567.4 3765h32M567.4 3770h32M610.1 3766.7V3771.7M594.1 3766.7h32M594.1 3771.7h32M636 3762.6V3767.5M620 3762.6h32M620 3767.5h32M662.6 3759.7V3764.6M646.6 3759.7h32M646.6 3764.6h32M689.3 3758.4V3763.4M673.3 3758.4h32M673.3 3763.4h32M716 3755.5V3760.5M700 3755.5h32M700 3760.5h32M741.9 3753V3758M725.9 3753h32M725.9 3758h32M768.5 3750.6V3755.5M752.5 3750.6h32M752.5 3755.5h32M795.2 3748.5V3753.5M779.2 3748.5h32M779.2 3753.5h32M821.1 3746V3751M805.1 3746h32M805.1 3751h32M847.8 3743.5V3748.5M831.8 3743.5h32M831.8 3748.5h32M874.5 3739.8V3744.8M858.5 3739.8h32M858.5 3744.8h32M901.1 3738.3V3744.1M885.1 3738.3h32M885.1 3744.1h32M927 3734.8V3741.5M911 3734.8h32M911 3741.5h32M953.7 3731.9V3738.6M937.7 3731.9h32M937.7 3738.6h32M978.8 3729.5V3736.1M962.8 3729.5h32M962.8 3736.1h32M1010.2 3725.3V3731.9M994.2 3725.3h32M994.2 3731.9h32M1033.7 3723.7V3730.3M1017.7 3723.7h32M1017.7 3730.3h32M1057.2 3721.2V3727.8M1041.2 3721.2h32M1041.2 3727.8h32M1088.6 3719.1V3725.7M1072.6 3719.1h32M1072.6 3725.7h32M1112.2 3718.3V3724.9M1096.2 3718.3h32M1096.2 3724.9h32M1135.7 3714.1V3720.8M1119.7 3714.1h32M1119.7 3720.8h32M1167.1 3712.1V3718.7M1151.1 3712.1h32M1151.1 3718.7h32M1190.6 3709.2V3715.8M1174.6 3709.2h32M1174.6 3715.8h32M1222 3705V3711.7M1206 3705h32M1206 3711.7h32M1245.5 3703.8V3710.4M1229.5 3703.8h32M1229.5 3710.4h32M1269.1 3701.7V3708.3M1253.1 3701.7h32M1253.1 3708.3h32M1300.4 3697.6V3704.2M1284.4 3697.6h32M1284.4 3704.2h32M1324 3695.5V3702.1M1308 3695.5h32M1308 3702.1h32M1347.5 3693.9V3701M1331.5 3693.9h32M1331.5 3701h32M1378.9 3689.8V3696.8M1362.9 3689.8h32M1362.9 3696.8h32M1402.4 3686.6V3694.8M1386.4 3686.6h32M1386.4 3694.8h32M1433.8 3683.7V3691.9M1417.8 3683.7h32M1417.8 3691.9h32M1457.3 3681.2V3690.3M1441.3 3681.2h32M1441.3 3690.3h32M1480.9 3679.1V3688.2M1464.9 3679.1h32M1464.9 3688.2h32M1512.2 3674.6V3684.5M1496.2 3674.6h32M1496.2 3684.5h32M1535.8 3671.2V3681.2M1519.8 3671.2h32M1519.8 3681.2h32M1559.3 3670V3680.8M1543.3 3670h32M1543.3 3680.8h32M1590.7 3667.9V3678.7M1574.7 3667.9h32M1574.7 3678.7h32M1614.2 3664.6V3676.2M1598.2 3664.6h32M1598.2 3676.2h32M1642.5 3662.1V3673.7M1626.5 3662.1h32M1626.5 3673.7h32M1669.1 3658V3670.4M1653.1 3658h32M1653.1 3670.4h32M1692.7 3655.9V3668.3M1676.7 3655.9h32M1676.7 3668.3h32M1724.1 3653.5V3665.9M1708.1 3653.5h32M1708.1 3665.9h32M1747.6 3651.4V3663.8M1731.6 3651.4h32M1731.6 3663.8h32"/>
<g class="m"><ellipse cx="185.8" cy="3805.5" rx="12.4" ry="11.9" fill="#006000"/><ellipse cx="212.3" cy="3801.4" rx="12.4" ry="11.9" fill="#006000"/><ellipse cx="238.8" cy="3797.2" rx="12.4" ry="11.9" fill="#006000"/><ellipse cx="265.1" cy="3798.6" rx="12.4" ry="11.9" fill="#006000"/><ellipse cx="291.8" cy="3798.6" rx="12.4" ry="11.9" fill="#006000"/><ellipse cx="318.4" cy="3789.8" rx="12.4" ry="11.9" fill="#006000"/><ellipse cx="344.3" cy="3793.9" rx="12.4" ry="11.9" fill="#006000"/><ellipse cx="371" cy="3786.5" rx="12.4" ry="11.9" fill="#006000"/><ellipse cx="397.7" cy="3789" rx="12.4" ry="11.9" fill="#006000"/><ellipse cx="424.3" cy="3783.7" rx="12.4" ry="11.9" fill="#006000"/><ellipse cx="450.2" cy="3778.4" rx="12.4" ry="11.9" fill="#006000"/><ellipse cx="476.9" cy="3777.9" rx="12.4" ry="11.9" fill="#006000"/><ellipse cx="503.6" cy="3776.6" rx="12.4" ry="11.9" fill="#006000"/><ellipse cx="529.5" cy="3773.3" rx="12.4" ry="11.9" fill="#006000"/><ellipse cx="556.1" cy="3767.9" rx="12.4" ry="11.9" fill="#006000"/><ellipse cx="582.8" cy="3767.5" rx="12.4" ry="11.9" fill="#006000"/><ellipse cx="609.5" cy="3769.2" rx="12.4" ry="11.9" fill="#006000"/><ellipse cx="635.4" cy="3765" rx="12.4" ry="11.9" fill="#006000"/><ellipse cx="662" cy="3762.1" rx="12.4" ry="11.9" fill="#006000"/><ellipse cx="688.7" cy="3760.9" rx="12.4" ry="11.9" fill="#006000"/><ellipse cx="715.4" cy="3758" rx="12.4" ry="11.9" fill="#006000"/><ellipse cx="741.3" cy="3755.5" rx="12.4" ry="11.9" fill="#006000"/><ellipse cx="767.9" cy="3753" rx="12.4" ry="11.9" fill="#006000"/><ellipse cx="794.6" cy="3751" rx="12.4" ry="11.9" fill="#006000"/><ellipse cx="820.5" cy="3748.5" rx="12.4" ry="11.9" fill="#006000"/><ellipse cx="847.2" cy="3746" rx="12.4" ry="11.9" fill="#006000"/><ellipse cx="873.9" cy="3742.3" rx="12.4" ry="11.9" fill="#006000"/><ellipse cx="900.5" cy="3741.2" rx="12.4" ry="11.9" fill="#006000"/><ellipse cx="926.4" cy="3738.1" rx="12.4" ry="11.9" fill="#006000"/><ellipse cx="953.1" cy="3735.2" rx="12.4" ry="11.9" fill="#006000"/><ellipse cx="978.2" cy="3732.8" rx="12.4" ry="11.9" fill="#006000"/><ellipse cx="1009.6" cy="3728.6" rx="12.4" ry="11.9" fill="#006000"/><ellipse cx="1033.1" cy="3727" rx="12.4" ry="11.9" fill="#006000"/><ellipse cx="1056.6" cy="3724.5" rx="12.4" ry="11.9" fill="#006000"/><ellipse cx="1088" cy="3722.4" rx="12.4" ry="11.9" fill="#006000"/><ellipse cx="1111.6" cy="3721.6" rx="12.4" ry="11.9" fill="#006000"/><ellipse cx="1135.1" cy="3717.5" rx="12.4" ry="11.9" fill="#006000"/><ellipse cx="1166.5" cy="3715.4" rx="12.4" ry="11.9" fill="#006000"/><ellipse cx="1190" cy="3712.5" rx="12.4" ry="11.9" fill="#006000"/><ellipse cx="1221.4" cy="3708.3" rx="12.4" ry="11.9" fill="#006000"/><ellipse cx="1244.9" cy="3707.1" rx="12.4" ry="11.9" fill="#006000"/><ellipse cx="1268.5" cy="3705" rx="12.4" ry="11.9" fill="#006000"/><ellipse cx="1299.8" cy="3700.9" rx="12.4" ry="11.9" fill="#006000"/><ellipse cx="1323.4" cy="3698.8" rx="12.4" ry="11.9" fill="#006000"/><ellipse cx="1346.9" cy="3697.5" rx="12.4" ry="11.9" fill="#006000"/><ellipse cx="1378.3" cy="3693.3" rx="12.4" ry="11.9" fill="#006000"/><ellipse cx="1401.8" cy="3690.7" rx="12.4" ry="11.9" fill="#006000"/><ellipse cx="1433.2" cy="3687.8" rx="12.4" ry="11.9" fill="#006000"/><ellipse cx="1456.7" cy="3685.7" rx="12.4" ry="11.9" fill="#006000"/><ellipse cx="1480.3" cy="3683.7" rx="12.4" ry="11.9" fill="#006000"/><ellipse cx="1511.6" cy="3679.5" rx="12.4" ry="11.9" fill="#006000"/><ellipse cx="1535.2" cy="3676.2" rx="12.4" ry="11.9" fill="#006000"/><ellipse cx="1558.7" cy="3675.4" rx="12.4" ry="11.9" fill="#006000"/><ellipse cx="1590.1" cy="3673.3" rx="12.4" ry="11.9" fill="#006000"/><ellipse cx="1613.6" cy="3670.4" rx="12.4" ry="11.9" fill="#006000"/><ellipse cx="1641.9" cy="3667.9" rx="12.4" ry="11.9" fill="#006000"/><ellipse cx="1668.5" cy="3664.2" rx="12.4" ry="11.9" fill="#006000"/><ellipse cx="1692.1" cy="3662.1" rx="12.4" ry="11.9" fill="#006000"/><ellipse cx="1723.5" cy="3659.7" rx="12.4" ry="11.9" fill="#006000"/><ellipse cx="1747" cy="3657.6" rx="12.4" ry="11.9" fill="#006000"/></g>
</g>
<g>
<path class="e" d="M186.4 3787V3828.4M170.4 3787h32M170.4 3828.4h32M212.9 3777.7V3788.7M196.9 3777.7h32M196.9 3788.7h32M239.4 3798.3V3809.4M223.4 3798.3h32M223.4 3809.4h32M265.7 3763.6V3774.6M249.7 3763.6h32M249.7 3774.6h32M292.4 3749.8V3760.8M276.4 3749.8h32M276.4 3760.8h32M319 3740.4V3751.4M303 3740.4h32M303 3751.4h32M344.9 3715.3V3726.3M328.9 3715.3h32M328.9 3726.3h32M371.6 3705.4V3716.4M355.6 3705.4h32M355.6 3716.4h32M398.3 3691.6V3702.6M382.3 3691.6h32M382.3 3702.6h32M424.9 3686.1V3697.1M408.9 3686.1h32M408.9 3697.1h32M450.8 3666.8V3677.8M434.8 3666.8h32M434.8 3677.8h32M477.5 3650.1V3663.9M461.5 3650.1h32M461.5 3663.9h32M504.2 3639.9V3653.6M488.2 3639.9h32M488.2 3653.6h32M530.1 3631.6V3644.3M514.1 3631.6h32M514.1 3644.3h32M556.7 3611.4V3625.2M540.7 3611.4h32M540.7 3625.2h32M583.4 3607.6V3618.1M567.4 3607.6h32M567.4 3618.1h32M610.1 3594.6V3606.2M594.1 3594.6h32M594.1 3606.2h32M636 3580V3593.8M620 3580h32M620 3593.8h32M662.6 3566.5V3586.3M646.6 3566.5h32M646.6 3586.3h32M689.3 3554.1V3571.2M673.3 3554.1h32M673.3 3571.2h32M716 3546.1V3556.5M700 3546.1h32M700 3556.5h32M741.9 3526.2V3545M725.9 3526.2h32M725.9 3545h32M768.5 3514.7V3532.7M752.5 3514.7h32M752.5 3532.7h32M795.2 3500.8V3519.5M779.2 3500.8h32M779.2 3519.5h32M821.1 3493.6V3510.7M805.1 3493.6h32M805.1 3510.7h32M847.8 3475.7V3495.5M831.8 3475.7h32M831.8 3495.5h32M874.5 3462.4V3481.2M858.5 3462.4h32M858.5 3481.2h32M901.1 3448.6V3471.2M885.1 3448.6h32M885.1 3471.2h32M927 3437.3V3461M911 3437.3h32M911 3461h32M953.7 3424.6V3447.2M937.7 3424.6h32M937.7 3447.2h32M978.8 3412.2V3435.4M962.8 3412.2h32M962.8 3435.4h32M1010.2 3399.8V3425.2M994.2 3399.8h32M994.2 3425.2h32M1033.7 3389.3V3410.8M1017.7 3389.3h32M1017.7 3410.8h32M1057.2 3372.2V3400.9M1041.2 3372.2h32M1041.2 3400.9h32M1088.6 3363V3385.1M1072.6 3363h32M1072.6 3385.1h32M1112.2 3351.5V3378.5M1096.2 3351.5h32M1096.2 3378.5h32M1135.7 3337.9V3365.5M1119.7 3337.9h32M1119.7 3365.5h32M1167.1 3327.5V3352.8M1151.1 3327.5h32M1151.1 3352.8h32M1190.6 3313.7V3341.8M1174.6 3313.7h32M1174.6 3341.8h32M1222 3299V3326.1M1206 3299h32M1206 3326.1h32M1245.5 3290.8V3317.8M1229.5 3290.8h32M1229.5 3317.8h32M1269.1 3278.3V3305.4M1253.1 3278.3h32M1253.1 3305.4h32M1300.4 3263.5V3291M1284.4 3263.5h32M1284.4 3291h32M1324 3253.2V3280.8M1308 3253.2h32M1308 3280.8h32M1347.5 3238.7V3267.4M1331.5 3238.7h32M1331.5 3267.4h32M1378.9 3226.2V3257.3M1362.9 3226.2h32M1362.9 3257.3h32M1402.4 3215.9V3242.9M1386.4 3215.9h32M1386.4 3242.9h32M1433.8 3203.2V3230.8M1417.8 3203.2h32M1417.8 3230.8h32M1457.3 3188.3V3217M1441.3 3188.3h32M1441.3 3217h32M1480.9 3177.3V3205.4M1464.9 3177.3h32M1464.9 3205.4h32M1512.2 3165.2V3193.6M1496.2 3165.2h32M1496.2 3193.6h32M1535.8 3152.4V3181.6M1519.8 3152.4h32M1519.8 3181.6h32M1559.3 3140.3V3170.6M1543.3 3140.3h32M1543.3 3170.6h32M1590.7 3130.5V3158.6M1574.7 3130.5h32M1574.7 3158.6h32M1614.2 3113.2V3146.9M1598.2 3113.2h32M1598.2 3146.9h32M1642.5 3105.5V3134.2M1626.5 3105.5h32M1626.5 3134.2h32M1669.1 3088.6V3121.7M1653.1 3088.6h32M1653.1 3121.7h32M1692.7 3078.9V3112.1M1676.7 3078.9h32M1676.7 3112.1h32M1724.1 3063.5V3098.8M1708.1 3063.5h32M1708.1 3098.8h32M1747.6 3057.2V3085.8M1731.6 3057.2h32M1731.6 3085.8h32"/>
<g class="m"><path d="M173.5 3800.1h26l-13 22.6z" fill="#0080ff"/><path d="M200 3775.6h26l-13 22.6z" fill="#0080ff"/><path d="M226.5 3796.3h26l-13 22.6z" fill="#0080ff"/><path d="M252.8 3761.5h26l-13 22.6z" fill="#0080ff"/><path d="M279.5 3747.7h26l-13 22.6z" fill="#0080ff"/><path d="M306.1 3738.3h26l-13 22.6z" fill="#0080ff"/><path d="M332 3713.2h26l-13 22.6z" fill="#0080ff"/><path d="M358.7 3703.3h26l-13 22.6z" fill="#0080ff"/><path d="M385.4 3689.5h26l-13 22.6z" fill="#0080ff"/><path d="M412 3684h26l-13 22.6z" fill="#0080ff"/><path d="M437.9 3664.7h26l-13 22.6z" fill="#0080ff"/><path d="M464.6 3649.4h26l-13 22.6z" fill="#0080ff"/><path d="M491.3 3639.1h26l-13 22.6z" fill="#0080ff"/><path d="M517.2 3630.3h26l-13 22.6z" fill="#0080ff"/><path d="M543.8 3610.7h26l-13 22.6z" fill="#0080ff"/><path d="M570.5 3605.2h26l-13 22.6z" fill="#0080ff"/><path d="M597.2 3592.8h26l-13 22.6z" fill="#0080ff"/><path d="M623.1 3579.3h26l-13 22.6z" fill="#0080ff"/><path d="M649.7 3568.8h26l-13 22.6z" fill="#0080ff"/><path d="M676.4 3555h26l-13 22.6z" fill="#0080ff"/><path d="M703.1 3543.7h26l-13 22.6z" fill="#0080ff"/><path d="M729 3528h26l-13 22.6z" fill="#0080ff"/><path d="M755.6 3516.1h26l-13 22.6z" fill="#0080ff"/><path d="M782.3 3502.5h26l-13 22.6z" fill="#0080ff"/><path d="M808.2 3494.5h26l-13 22.6z" fill="#0080ff"/><path d="M834.9 3478h26l-13 22.6z" fill="#0080ff"/><path d="M861.6 3464.2h26l-13 22.6z" fill="#0080ff"/><path d="M888.2 3452.3h26l-13 22.6z" fill="#0080ff"/><path d="M914.1 3441.6h26l-13 22.6z" fill="#0080ff"/><path d="M940.8 3428.3h26l-13 22.6z" fill="#0080ff"/><path d="M965.9 3416.2h26l-13 22.6z" fill="#0080ff"/><path d="M997.3 3404.9h26l-13 22.6z" fill="#0080ff"/><path d="M1020.8 3392.5h26l-13 22.6z" fill="#0080ff"/><path d="M1044.3 3379h26l-13 22.6z" fill="#0080ff"/><path d="M1075.7 3366.5h26l-13 22.6z" fill="#0080ff"/><path d="M1099.3 3357.4h26l-13 22.6z" fill="#0080ff"/><path d="M1122.8 3344.1h26l-13 22.6z" fill="#0080ff"/><path d="M1154.2 3332.5h26l-13 22.6z" fill="#0080ff"/><path d="M1177.7 3320.1h26l-13 22.6z" fill="#0080ff"/><path d="M1209.1 3305h26l-13 22.6z" fill="#0080ff"/><path d="M1232.6 3296.7h26l-13 22.6z" fill="#0080ff"/><path d="M1256.2 3284.3h26l-13 22.6z" fill="#0080ff"/><path d="M1287.5 3269.6h26l-13 22.6z" fill="#0080ff"/><path d="M1311.1 3259.4h26l-13 22.6z" fill="#0080ff"/><path d="M1334.6 3245.5h26l-13 22.6z" fill="#0080ff"/><path d="M1366 3234.2h26l-13 22.6z" fill="#0080ff"/><path d="M1389.5 3221.8h26l-13 22.6z" fill="#0080ff"/><path d="M1420.9 3209.4h26l-13 22.6z" fill="#0080ff"/><path d="M1444.4 3195.1h26l-13 22.6z" fill="#0080ff"/><path d="M1468 3183.8h26l-13 22.6z" fill="#0080ff"/><path d="M1499.3 3171.8h26l-13 22.6z" fill="#0080ff"/><path d="M1522.9 3159.4h26l-13 22.6z" fill="#0080ff"/><path d="M1546.4 3147.8h26l-13 22.6z" fill="#0080ff"/><path d="M1577.8 3136.9h26l-13 22.6z" fill="#0080ff"/><path d="M1601.3 3122.5h26l-13 22.6z" fill="#0080ff"/><path d="M1629.6 3112.2h26l-13 22.6z" fill="#0080ff"/><path d="M1656.2 3097.6h26l-13 22.6z" fill="#0080ff"/><path d="M1679.8 3087.9h26l-13 22.6z" fill="#0080ff"/><path d="M1711.2 3073.6h26l-13 22.6z" fill="#0080ff"/><path d="M1734.7 3063.9h26l-13 22.6z" fill="#0080ff"/></g>
</g>
<g>
<path class="e" d="M186.4 3806.7V3823.3M170.4 3806.7h32M170.4 3823.3h32M212.9 3819.4V3832.7M196.9 3819.4h32M196.9 3832.7h32M239.4 3755.7V3766.7M223.4 3755.7h32M223.4 3766.7h32M265.7 3758.5V3777.8M249.7 3758.5h32M249.7 3777.8h32M292.4 3748.8V3759.8M276.4 3748.8h32M276.4 3759.8h32M319 3719V3730M303 3719h32M303 3730h32M344.9 3710.2V3726.7M328.9 3710.2h32M328.9 3726.7h32M371.6 3688.7V3699.7M355.6 3688.7h32M355.6 3699.7h32M398.3 3684.8V3695.8M382.3 3684.8h32M382.3 3695.8h32M424.9 3668.8V3679.8M408.9 3668.8h32M408.9 3679.8h32M450.8 3661.1V3672.1M434.8 3661.1h32M434.8 3672.1h32M477.5 3641.7V3667.1M461.5 3641.7h32M461.5 3667.1h32M504.2 3628.4V3650M488.2 3628.4h32M488.2 3650h32M530.1 3599.7V3622.4M514.1 3599.7h32M514.1 3622.4h32M556.7 3599.2V3624M540.7 3599.2h32M540.7 3624h32M583.4 3593.7V3607.5M567.4 3593.7h32M567.4 3607.5h32M610.1 3573.8V3587.6M594.1 3573.8h32M594.1 3587.6h32M636 3551.5V3565.3M620 3551.5h32M620 3565.3h32M662.6 3550.9V3564.7M646.6 3550.9h32M646.6 3564.7h32M689.3 3537.1V3550.9M673.3 3537.1h32M673.3 3550.9h32M716 3510.6V3521.1M700 3510.6h32M700 3521.1h32M741.9 3517V3530.8M725.9 3517h32M725.9 3530.8h32M768.5 3501V3514.8M752.5 3501h32M752.5 3514.8h32M795.2 3474V3485M779.2 3474h32M779.2 3485h32M821.1 3474V3486.1M805.1 3474h32M805.1 3486.1h32M847.8 3457.4V3469.6M831.8 3457.4h32M831.8 3469.6h32M874.5 3442.2V3454.4M858.5 3442.2h32M858.5 3454.4h32M901.1 3434.5V3446.7M885.1 3434.5h32M885.1 3446.7h32M927 3408.6V3421.8M911 3408.6h32M911 3421.8h32M953.7 3407.8V3421M937.7 3407.8h32M937.7 3421h32M978.8 3372.5V3393.4M962.8 3372.5h32M962.8 3393.4h32M1010.2 3380.2V3394M994.2 3380.2h32M994.2 3394h32M1033.7 3354.8V3365.3M1017.7 3354.8h32M1017.7 3365.3h32M1057.2 3349.6V3371.6M1041.2 3349.6h32M1041.2 3371.6h32M1088.6 3329.8V3351.9M1072.6 3329.8h32M1072.6 3351.9h32M1112.2 3320.7V3342.8M1096.2 3320.7h32M1096.2 3342.8h32M1135.7 3309.1V3330.1M1119.7 3309.1h32M1119.7 3330.1h32M1167.1 3286.2V3308.3M1151.1 3286.2h32M1151.1 3308.3h32M1190.6 3284.3V3306.4M1174.6 3284.3h32M1174.6 3306.4h32M1222 3261.4V3286.2M1206 3261.4h32M1206 3286.2h32M1245.5 3250.6V3273.8M1229.5 3250.6h32M1229.5 3273.8h32M1269.1 3245.1V3268.3M1253.1 3245.1h32M1253.1 3268.3h32M1300.4 3221.4V3247.9M1284.4 3221.4h32M1284.4 3247.9h32M1324 3207.6V3232.4M1308 3207.6h32M1308 3232.4h32M1347.5 3200.6V3229.3M1331.5 3200.6h32M1331.5 3229.3h32M1378.9 3188.5V3216.6M1362.9 3188.5h32M1362.9 3216.6h32M1402.4 3170.5V3195.3M1386.4 3170.5h32M1386.4 3195.3h32M1433.8 3159.5V3184.3M1417.8 3159.5h32M1417.8 3184.3h32M1457.3 3151.2V3176M1441.3 3151.2h32M1441.3 3176h32M1480.9 3141.5V3163.6M1464.9 3141.5h32M1464.9 3163.6h32M1512.2 3124.6V3150M1496.2 3124.6h32M1496.2 3150h32M1535.8 3105.7V3130.6M1519.8 3105.7h32M1519.8 3130.6h32M1559.3 3095.7V3120.5M1543.3 3095.7h32M1543.3 3120.5h32M1590.7 3086.3V3109.2M1574.7 3086.3h32M1574.7 3109.2h32M1614.2 3074.8V3102.7M1598.2 3074.8h32M1598.2 3102.7h32M1642.5 3062.6V3087.4M1626.5 3062.6h32M1626.5 3087.4h32M1669.1 3049V3075.5M1653.1 3049h32M1653.1 3075.5h32M1692.7 3037.4V3065M1676.7 3037.4h32M1676.7 3065h32M1724.1 3021.1V3048.1M1708.1 3021.1h32M1708.1 3048.1h32M1747.6 3009.8V3034.6M1731.6 3009.8h32M1731.6 3034.6h32"/>
<g class="m"><path d="M173.5 3807.4h26l-13 22.6z" fill="#004080"/><path d="M200 3818.4h26l-13 22.6z" fill="#004080"/><path d="M226.5 3753.6h26l-13 22.6z" fill="#004080"/><path d="M252.8 3760.5h26l-13 22.6z" fill="#004080"/><path d="M279.5 3746.7h26l-13 22.6z" fill="#004080"/><path d="M306.1 3716.9h26l-13 22.6z" fill="#004080"/><path d="M332 3710.9h26l-13 22.6z" fill="#004080"/><path d="M358.7 3686.6h26l-13 22.6z" fill="#004080"/><path d="M385.4 3682.7h26l-13 22.6z" fill="#004080"/><path d="M412 3666.7h26l-13 22.6z" fill="#004080"/><path d="M437.9 3659h26l-13 22.6z" fill="#004080"/><path d="M464.6 3646.8h26l-13 22.6z" fill="#004080"/><path d="M491.3 3631.6h26l-13 22.6z" fill="#004080"/><path d="M517.2 3603.5h26l-13 22.6z" fill="#004080"/><path d="M543.8 3604h26l-13 22.6z" fill="#004080"/><path d="M570.5 3593h26l-13 22.6z" fill="#004080"/><path d="M597.2 3573.1h26l-13 22.6z" fill="#004080"/><path d="M623.1 3550.8h26l-13 22.6z" fill="#004080"/><path d="M649.7 3550.2h26l-13 22.6z" fill="#004080"/><path d="M676.4 3536.4h26l-13 22.6z" fill="#004080"/><path d="M703.1 3508.3h26l-13 22.6z" fill="#004080"/><path d="M729 3516.3h26l-13 22.6z" fill="#004080"/><path d="M755.6 3500.3h26l-13 22.6z" fill="#004080"/><path d="M782.3 3471.9h26l-13 22.6z" fill="#004080"/><path d="M808.2 3472.4h26l-13 22.6z" fill="#004080"/><path d="M834.9 3455.9h26l-13 22.6z" fill="#004080"/><path d="M861.6 3440.7h26l-13 22.6z" fill="#004080"/><path d="M888.2 3433h26l-13 22.6z" fill="#004080"/><path d="M914.1 3407.6h26l-13 22.6z" fill="#004080"/><path d="M940.8 3406.8h26l-13 22.6z" fill="#004080"/><path d="M965.9 3375.3h26l-13 22.6z" fill="#004080"/><path d="M997.3 3379.5h26l-13 22.6z" fill="#004080"/><path d="M1020.8 3352.4h26l-13 22.6z" fill="#004080"/><path d="M1044.3 3353h26l-13 22.6z" fill="#004080"/><path d="M1075.7 3333.2h26l-13 22.6z" fill="#004080"/><path d="M1099.3 3324.1h26l-13 22.6z" fill="#004080"/><path d="M1122.8 3312h26l-13 22.6z" fill="#004080"/><path d="M1154.2 3289.7h26l-13 22.6z" fill="#004080"/><path d="M1177.7 3287.7h26l-13 22.6z" fill="#004080"/><path d="M1209.1 3266.2h26l-13 22.6z" fill="#004080"/><path d="M1232.6 3254.6h26l-13 22.6z" fill="#004080"/><path d="M1256.2 3249.1h26l-13 22.6z" fill="#004080"/><path d="M1287.5 3227h26l-13 22.6z" fill="#004080"/><path d="M1311.1 3212.4h26l-13 22.6z" fill="#004080"/><path d="M1334.6 3207.4h26l-13 22.6z" fill="#004080"/><path d="M1366 3195h26l-13 22.6z" fill="#004080"/><path d="M1389.5 3175.3h26l-13 22.6z" fill="#004080"/><path d="M1420.9 3164.3h26l-13 22.6z" fill="#004080"/><path d="M1444.4 3156h26l-13 22.6z" fill="#004080"/><path d="M1468 3145h26l-13 22.6z" fill="#004080"/><path d="M1499.3 3129.7h26l-13 22.6z" fill="#004080"/><path d="M1522.9 3110.5h26l-13 22.6z" fill="#004080"/><path d="M1546.4 3100.5h26l-13 22.6z" fill="#004080"/><path d="M1577.8 3090.1h26l-13 22.6z" fill="#004080"/><path d="M1601.3 3081.2h26l-13 22.6z" fill="#004080"/><path d="M1629.6 3067.4h26l-13 22.6z" fill="#004080"/><path d="M1656.2 3054.6h26l-13 22.6z" fill="#004080"/><path d="M1679.8 3043.6h26l-13 22.6z" fill="#004080"/><path d="M1711.2 3027h26l-13 22.6z" fill="#004080"/><path d="M1734.7 3014.6h26l-13 22.6z" fill="#004080"/></g>
</g>
<rect class="a" x="171.2" y="2837.2" width="1617" height="1005.3"/>
<path class="a" d="M178.6 3842.5v14.5M570.9 3842.5v14.5M963.1 3842.5v14.5M1355.3 3842.5v14.5M1747.6 3842.5v14.5M171.2 3810.1h-16.5M171.2 3647.9h-16.5M171.2 3485.8h-16.5M171.2 3323.6h-16.5M171.2 3161.5h-16.5M171.2 2999.3h-16.5M171.2 2837.2h-16.5"/>
<text x="166.1" y="3924" font-size="48.5" textLength="27" lengthAdjust="spacingAndGlyphs">0</text>
<text x="544.9" y="3924" font-size="48.5" textLength="53.9" lengthAdjust="spacingAndGlyphs">50</text>
<text x="922.8" y="3924" font-size="48.5" textLength="80.9" lengthAdjust="spacingAndGlyphs">100</text>
<text x="1315" y="3924" font-size="48.5" textLength="80.9" lengthAdjust="spacingAndGlyphs">150</text>
<text x="1707.9" y="3924" font-size="48.5" textLength="80.9" lengthAdjust="spacingAndGlyphs">200</text>
<text x="102.4" y="3826.6" font-size="49.5" textLength="27.5" lengthAdjust="spacingAndGlyphs">0</text>
<text x="102.9" y="3664.4" font-size="49.5" textLength="27.5" lengthAdjust="spacingAndGlyphs">1</text>
<text x="103" y="3502.3" font-size="49.5" textLength="27.5" lengthAdjust="spacingAndGlyphs">2</text>
<text x="102.6" y="3339.8" font-size="49.5" textLength="27.5" lengthAdjust="spacingAndGlyphs">3</text>
<text x="101.9" y="3177.5" font-size="49.5" textLength="27.5" lengthAdjust="spacingAndGlyphs">4</text>
<text x="102.5" y="3016.3" font-size="49.5" textLength="27.5" lengthAdjust="spacingAndGlyphs">5</text>
<text x="102.6" y="2854.2" font-size="49.5" textLength="27.5" lengthAdjust="spacingAndGlyphs">6</text>
<text y="4017.1" font-size="56"><tspan x="789.7" dy="0" font-size="56" textLength="312.3" lengthAdjust="spacingAndGlyphs">Shear rate (s</tspan><tspan x="1099.6" dy="-22.7" font-size="50" textLength="44.3" lengthAdjust="spacingAndGlyphs">-1</tspan><tspan x="1149.7" dy="22.7" font-size="56" textLength="19.5" lengthAdjust="spacingAndGlyphs">)</tspan></text>
<text x="203.2" y="2905.6" font-size="44.4" textLength="690" lengthAdjust="spacingAndGlyphs">Oil content (%w/w) - Pressure (bar)</text>
<g class="m">
<ellipse cx="457.5" cy="2948.8" rx="12.4" ry="11.9" fill="#00c000"/>
<ellipse cx="457.5" cy="3002.6" rx="12.4" ry="11.9" fill="#006000"/>
<path d="M445.7 3050.6h26.6l-13.3 22.6z" fill="#0080ff"/>
<path d="M445.7 3104.4h26.6l-13.3 22.6z" fill="#004080"/>
</g>
<text x="531.6" y="2963.8" font-size="42" textLength="152.4" lengthAdjust="spacingAndGlyphs">30 - 500</text>
<text x="531.6" y="3017.6" font-size="42" textLength="175.5" lengthAdjust="spacingAndGlyphs">30 - 1000</text>
<text x="531.5" y="3071.4" font-size="42" textLength="152.4" lengthAdjust="spacingAndGlyphs">50 - 500</text>
<text x="531.5" y="3125.2" font-size="42" textLength="175.5" lengthAdjust="spacingAndGlyphs">50 - 1000</text>
<text x="1492.1" y="2906.8" font-size="56" textLength="277" lengthAdjust="spacingAndGlyphs">Soy lecithin</text>
</g>
</svg>
</body>
</html>
